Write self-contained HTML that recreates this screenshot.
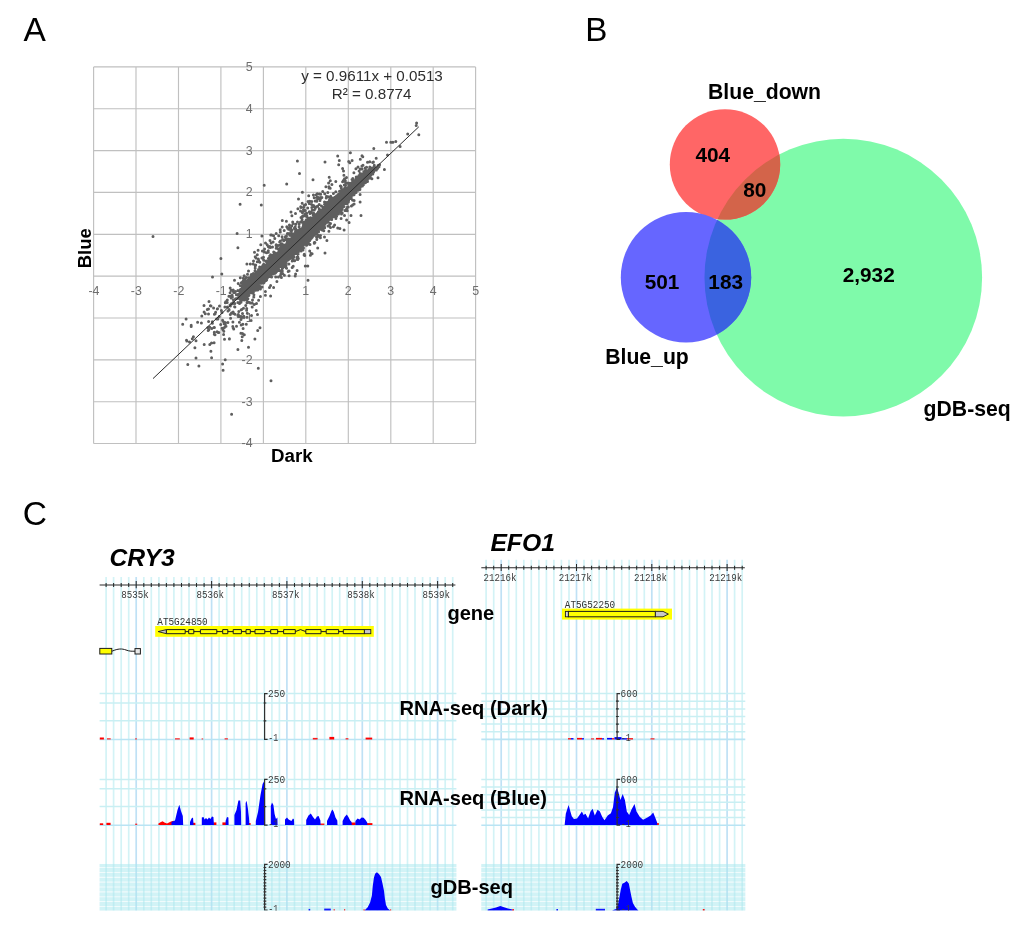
<!DOCTYPE html>
<html lang="en"><head><meta charset="utf-8"><title>Figure</title>
<style>html,body{margin:0;padding:0;background:#fff}body{width:1024px;height:931px;overflow:hidden}svg{display:block;filter:blur(0.4px)}text{font-family:"Liberation Sans", Arial, sans-serif}text.m,.m text{font-family:"Liberation Mono", "DejaVu Sans Mono", monospace}</style>
</head><body>
<svg width="1024" height="931" viewBox="0 0 1024 931">
<rect width="1024" height="931" fill="#fff"/>
<g id="panelA">
<text x="23.6" y="40.8" font-size="33.5" fill="#000">A</text>
<path d="M93.6 66.9V443.5M93.6 443.5H475.6M136 66.9V443.5M93.6 401.7H475.6M178.5 66.9V443.5M93.6 359.8H475.6M220.9 66.9V443.5M93.6 318H475.6M263.4 66.9V443.5M93.6 276.1H475.6M305.8 66.9V443.5M93.6 234.3H475.6M348.3 66.9V443.5M93.6 192.4H475.6M390.8 66.9V443.5M93.6 150.6H475.6M433.2 66.9V443.5M93.6 108.7H475.6M475.6 66.9V443.5M93.6 66.9H475.6" stroke="#c0c0c0" stroke-width="1.15" fill="none"/>
<path d="M330.3 204.4h0M296.5 241.3h0M292.8 245.3h0M311.2 231.1h0M367.6 170.7h0M320.1 223.6h0M283 246.5h0M284.2 258.1h0M323.6 215.7h0M287.4 244.9h0M317.1 230.9h0M240.5 297.1h0M319.4 221.3h0M260.5 269.7h0M317.2 221.2h0M289.5 255.9h0M344.2 198.3h0M327.1 218.9h0M278.3 260.4h0M297.9 240h0M257.5 278.5h0M312.6 228.9h0M346.9 200.6h0M278.2 257.5h0M260.4 276.5h0M326.5 214.3h0M306.6 238.3h0M309.4 231.2h0M345 198.1h0M292.9 240.2h0M330.7 209.4h0M321.8 215.7h0M303.8 234.1h0M260 279.8h0M328.2 206.8h0M302.2 233.4h0M321 218.9h0M311.1 227.8h0M341.7 209.8h0M333.7 209.4h0M311.7 225.9h0M313.4 195h0M348.5 193.6h0M281.2 255.9h0M305.1 239.1h0M230.1 292.7h0M295.4 242.5h0M361.2 179.1h0M271.5 274h0M362.5 180.1h0M267.9 274.3h0M293.3 237.5h0M337.6 201.7h0M348.6 191.4h0M372 172.8h0M335.7 198.3h0M295.5 213.5h0M268.5 265h0M306.2 226.5h0M350.6 184.1h0M244.8 296.4h0M307.6 233.2h0M302.8 227.3h0M305.1 235.5h0M264.2 281.5h0M284.9 253.5h0M308.4 227.2h0M362.8 182.8h0M279.5 264.9h0M315.2 208.5h0M275 273.2h0M353.1 185.6h0M327.2 206.6h0M360.8 179.4h0M328.9 201.8h0M248.5 271.1h0M352.1 186.9h0M275.3 263.2h0M302.6 237.8h0M331.7 208.7h0M387.5 154.9h0M356.6 184h0M242.7 289.2h0M345.4 187.8h0M252.1 286.6h0M273.1 242.1h0M261.5 266.9h0M329.2 215.6h0M330.2 206.1h0M309.1 229.3h0M285.8 244.5h0M316.4 219.4h0M354.5 187h0M298.2 239.1h0M292.9 251.7h0M335.2 209.9h0M320.1 212.5h0M325.9 206.1h0M330.3 205.5h0M294.4 239h0M297.1 270.5h0M306.6 233.2h0M304.9 238.2h0M303.4 236.3h0M317.3 218.5h0M307.5 240.8h0M336.4 206.4h0M261.9 276.6h0M259.2 272.7h0M349.3 196.6h0M244.1 292.5h0M318.6 224.9h0M259.7 274.5h0M325.8 221.8h0M331.6 212h0M319.1 229.5h0M297.5 243.4h0M325.8 213.1h0M298.3 245.4h0M343.3 194.7h0M250.5 286.4h0M355.5 185.3h0M304.6 237.8h0M259.7 282.9h0M311.5 223.9h0M242.4 289.1h0M324.1 217.7h0M308.5 233.2h0M271.2 267.5h0M304.3 239.4h0M311.8 232.1h0M358.8 182.6h0M336 207.5h0M281.9 243.8h0M282.4 251.7h0M351.6 185.4h0M273.6 267.7h0M302.3 212.5h0M363 165.2h0M301.8 239.2h0M304.5 242.6h0M318.4 223.1h0M288.5 271.2h0M288.9 253.5h0M313 224.3h0M306.9 242.5h0M316.9 220.7h0M323.3 215.2h0M343.4 203.4h0M273.5 265.2h0M289.6 256.6h0M269.1 268.7h0M276.1 245.5h0M357.5 178.8h0M303.7 234.1h0M247.9 282.2h0M370.9 171.1h0M315.2 217.1h0M343 201.4h0M356.9 183.7h0M326.9 211.1h0M334.1 204.2h0M262.7 275.7h0M300.1 239.7h0M347.4 196.1h0M306 216h0M281.4 264.8h0M304.2 241.2h0M241.6 297h0M266.7 266.4h0M308 227.3h0M271.1 267.5h0M279.7 242h0M304.3 241.8h0M320.9 220h0M251.1 279.6h0M374.3 167.1h0M244.3 295.1h0M324.7 211.7h0M304.2 205.4h0M360.6 179h0M251.2 290h0M266 270.7h0M244.1 289.4h0M254.1 278.8h0M302.6 238.7h0M275.3 264.4h0M326.8 207.5h0M243.3 296.1h0M282.8 255.1h0M320.4 228.1h0M321.8 220.8h0M250.7 282.1h0M273.3 258.1h0M312.1 253.7h0M241.4 290.7h0M300.2 235.6h0M269.5 273.5h0M329.5 209.1h0M281.7 256.9h0M282.8 249.4h0M357.3 177.6h0M310.4 220h0M253.8 279.3h0M245.5 298.7h0M335 201.7h0M300.5 241h0M367.3 178.8h0M278.9 257.1h0M320.2 222.2h0M286.5 253.6h0M285.6 251.1h0M265.7 276.8h0M252.3 280.9h0M295.2 248.5h0M376.4 170h0M289 244.5h0M267.5 265.8h0M294.7 247.5h0M306.6 232.3h0M362.5 182.4h0M282.7 257h0M254.7 276.7h0M370.2 168.7h0M305 225.6h0M292.3 256.1h0M263.5 273h0M351.6 185.9h0M273.1 261.1h0M304.7 222h0M254.9 285.1h0M255.9 287.4h0M290.1 253.5h0M300.2 241.9h0M277 265.2h0M345 194.4h0M335.9 207.4h0M309.5 223.1h0M315 224h0M266.7 279.8h0M357.3 178.7h0M266.1 280.6h0M371.1 173.4h0M365.3 180.5h0M346.2 196.6h0M360.8 179.6h0M293.4 246.2h0M311.5 221.1h0M262.8 277.5h0M259.9 278.7h0M314.8 223.5h0M324.8 217.5h0M275.7 277.1h0M299.6 242h0M246.6 290.1h0M318.9 214h0M312 228h0M298.2 238.8h0M293.5 245.1h0M304 237.8h0M321.2 217.1h0M345.9 192.6h0M294.6 251.3h0M294.1 253h0M279 264.6h0M299.8 229.5h0M246 293.8h0M304.6 233.2h0M280.2 265.5h0M263.6 274.2h0M366.6 174.4h0M240.9 295.5h0M300.9 244.3h0M304.7 233.4h0M333.6 208.5h0M279.7 257h0M266.6 267.5h0M242.1 294.8h0M300.8 243.6h0M361 177.4h0M329.6 226.3h0M329.7 218h0M297.2 248.6h0M294.7 245.7h0M318.4 211.7h0M308.5 230.3h0M325.4 215.5h0M292.2 242.7h0M248.9 295.3h0M367.1 175.3h0M318.4 219h0M325 222.5h0M346.9 190.4h0M298 240.7h0M297.3 246.8h0M307.8 232.9h0M298.4 240.1h0M312.4 232.3h0M252.3 284.4h0M305.1 234h0M303.3 235.2h0M284.5 252h0M278.2 263.5h0M307.1 234h0M333.9 208.8h0M287.9 259.5h0M344.3 194.1h0M307.1 239.1h0M271.5 266.4h0M305.2 243.1h0M295.3 241.1h0M339.9 209.4h0M324 214h0M313.3 222.6h0M260.9 276.3h0M331.7 210.9h0M338.1 200.4h0M253.7 274.9h0M298.6 241.6h0M254.4 283.4h0M309.1 232.9h0M302.4 242.8h0M294.5 239.9h0M285.5 256.4h0M358.5 182.6h0M354.8 190.3h0M276.9 256.8h0M336 202.2h0M273 262.2h0M270.9 272h0M258.7 277.1h0M302.3 234.6h0M255.4 283.5h0M351.6 184.6h0M291.2 252.5h0M333 208.5h0M299.6 239.2h0M294.4 249.3h0M299.7 237.7h0M359.1 178.9h0M325.4 208.7h0M315.9 230.5h0M303 243.8h0M345.8 189.7h0M276 262.2h0M336.8 205.2h0M278.6 265.1h0M328.8 211.4h0M355 182.9h0M258.9 287.5h0M242.1 288.2h0M290 246.4h0M286.7 249h0M346.6 190.2h0M330 215.4h0M352.9 191.1h0M299.1 246.2h0M301.6 234h0M336.6 202.6h0M264.6 272.8h0M322.8 222.7h0M353.2 183.5h0M274.6 269h0M331.9 184.5h0M244.6 294.6h0M289.3 252.8h0M306.5 236.7h0M248.3 291.1h0M294.4 245.5h0M328.1 206.5h0M292.9 242h0M345.6 197.8h0M239.3 297h0M307.1 240.4h0M362.5 183.2h0M324.4 222.7h0M276.7 270h0M317.7 213.8h0M328.3 210.4h0M345.9 196h0M330.3 217.4h0M247.4 286.5h0M345.8 190.1h0M300.1 244.5h0M372 169.1h0M339.9 197.3h0M306.8 232.8h0M316.9 223.8h0M353.5 187.9h0M265.3 271h0M338.2 210.9h0M335.5 202.2h0M336.6 206.3h0M269.9 275.6h0M301.3 241.2h0M331.7 207.5h0M295.9 245.8h0M276.6 267.4h0M320.8 223.6h0M293.1 259.2h0M247.4 280.8h0M281.6 258.2h0M290.7 257h0M278.2 266.6h0M266.8 267.6h0M245.7 287.4h0M245.3 286.4h0M363 184.4h0M250.8 288.7h0M365.4 180.9h0M274.3 263.9h0M301.9 228.8h0M344 206.6h0M310.3 234.9h0M311.4 225.4h0M288.9 255h0M325.5 210.1h0M303.2 235.6h0M285.9 253.7h0M302.9 223h0M276.7 260.4h0M343.3 203.3h0M274.2 262.7h0M322.6 227.8h0M281.3 244.3h0M297.6 232h0M358.1 190.3h0M293 256.1h0M283 255.6h0M361.8 177.6h0M314.9 233.2h0M247.6 288.7h0M280.3 257.9h0M288.9 245.6h0M329 206.9h0M340.7 200.3h0M269.7 256.1h0M359.6 184.4h0M353.4 188.1h0M272.5 257.2h0M259.3 270.7h0M321.1 216.5h0M285.8 254.1h0M363.3 182.2h0M255.4 290.2h0M340.6 205.3h0M298.3 237h0M253.2 284.6h0M247.8 292.2h0M363.1 179.5h0M240.1 292.3h0M316.5 221.1h0M266.5 265.1h0M326.2 212.5h0M349.3 186.6h0M350.5 188.6h0M247.5 293.5h0M306.4 224.6h0M304.2 235.7h0M289.5 246h0M301.2 238.5h0M287.9 251.1h0M356.5 186.7h0M248.3 292.6h0M306.6 239.4h0M296.3 252.8h0M323.4 216.6h0M296.6 242.2h0M309.3 238.6h0M296.7 242.8h0M294.4 248.9h0M303.6 231.3h0M259.9 272.4h0M262.2 270.7h0M291.8 252.3h0M344.6 197.8h0M286.6 268.2h0M362.9 179.1h0M295.2 226.8h0M294.2 249.1h0M332.8 209.3h0M303.5 248.1h0M349 192h0M275.8 263.2h0M234.8 303.6h0M334.9 201.2h0M309.2 225.8h0M286.3 252.9h0M295 238.9h0M337.4 200.6h0M316.8 220.9h0M350.9 195h0M280.7 256.5h0M340.8 196.1h0M272.2 265.3h0M283.5 254.5h0M285.4 254.9h0M307.9 232.1h0M288.7 240.4h0M285.6 256.3h0M350.6 197h0M340.1 209.9h0M363.1 178.6h0M240.6 299.9h0M317 226.4h0M357.5 188h0M327.4 214.8h0M333.9 211.2h0M307.3 224.2h0M297.9 238.6h0M363.8 175.1h0M352.8 178.6h0M241.5 290.4h0M233.1 302.6h0M309.7 232.2h0M275.1 270.5h0M310.7 218.9h0M271 262.9h0M369.8 176.4h0M286.2 249.7h0M263 265.2h0M295.8 237h0M373.3 171.9h0M318.1 218.5h0M311.3 225.6h0M287.6 254.5h0M296.7 245.2h0M348.8 189.7h0M266.5 276.7h0M299.2 232.6h0M317.4 220.7h0M254.4 280.6h0M245.8 291.8h0M248.4 287.7h0M287.7 255.6h0M358.9 178.8h0M274.2 262.1h0M318.5 198h0M319.9 211.1h0M277.7 257h0M369.2 175.7h0M272.7 265.9h0M281.9 265.7h0M309.2 232.7h0M279.2 256.4h0M273.4 265.6h0M345.7 189.9h0M313 223h0M289 253.9h0M252.5 283.1h0M289.6 248.1h0M286.3 261.7h0M359.1 171h0M303 237.5h0M319.1 225.1h0M286.8 254.1h0M264.6 273.4h0M291.8 251.2h0M292.5 241.9h0M358.7 180h0M329.3 212.2h0M314.8 219.4h0M339.3 195h0M356 190.1h0M350.3 190.4h0M264.4 269.2h0M320.4 224h0M355.7 180.6h0M245.5 289.4h0M321.5 214.6h0M264.2 272.2h0M298.7 244.5h0M287 247h0M256.8 276.3h0M269.6 261.1h0M339.5 201.1h0M293 248.2h0M277.9 255.1h0M333.1 209.7h0M324.6 208.4h0M320 217.9h0M245.9 291.6h0M275.2 255.5h0M295.2 239.3h0M314.5 226.6h0M330.3 208h0M269.8 257.7h0M283.8 259h0M313.8 228h0M282.5 262.1h0M351.9 191.2h0M332.5 209.2h0M300.3 235.6h0M274.5 262.5h0M251.4 284.4h0M315.9 229.8h0M306.1 233h0M324.5 201.9h0M284.2 245.4h0M279.9 256.8h0M353.9 172.7h0M339.9 194h0M316.3 228h0M263.3 267.2h0M263.4 276.9h0M361.9 166h0M305 236.4h0M262.1 276.2h0M252.1 287.5h0M240.4 294.7h0M345.9 197.2h0M349 195.5h0M351.2 184.1h0M294.1 239.5h0M308.2 229.5h0M371.3 172.7h0M369.5 173.2h0M322 220.2h0M338.1 204.9h0M267.5 261.3h0M288.9 255h0M290.1 254.3h0M323.1 215h0M313.8 224.1h0M274.2 267.7h0M299.1 239.1h0M344.2 199h0M296.9 251.9h0M327 213.7h0M337.2 206.6h0M292.8 239.6h0M258.5 280.2h0M306.2 228.4h0M309.8 225.7h0M337.2 208.6h0M358.9 187.2h0M286 256.7h0M250.5 287.1h0M245.9 286h0M255.3 265.9h0M274.3 273.1h0M323.4 214.6h0M265 272.2h0M291.9 251.7h0M312.5 222.9h0M239.9 296.4h0M327.7 204.3h0M285.5 252.6h0M333.9 212.3h0M317.7 219.5h0M308.9 235.5h0M289.2 253.7h0M290.2 247h0M302.9 237.2h0M328.6 218.1h0M373.6 170.7h0M312.1 232.9h0M270.6 264.2h0M331.7 219.4h0M339.6 204.9h0M281.8 252.1h0M314.3 242.5h0M307.2 234.1h0M317.5 228.2h0M313.6 225.5h0M313.9 227.1h0M285.9 261.3h0M321 217.8h0M288.1 260.1h0M331.3 206.3h0M288.8 247.8h0M269.4 264.8h0M253.6 288.9h0M295.6 235.2h0M286 248.1h0M241.3 296.9h0M268.6 269.1h0M258.3 279.7h0M312.9 230.4h0M283.5 255.2h0M338.7 164.7h0M267.2 271.1h0M276 256.5h0M345.6 201.3h0M321.9 222.5h0M268.1 269.9h0M344.5 189.7h0M371.6 172h0M257.8 273.6h0M273.4 272h0M270.8 266h0M307.7 238.7h0M303.3 222.8h0M317.1 220.4h0M294.9 243.5h0M286.4 256.7h0M254.6 281.3h0M284.3 258.4h0M274.1 266.1h0M324.4 216.2h0M328.2 210h0M280.2 229.7h0M287.1 252.8h0M276 260.2h0M280.8 255.1h0M320.5 221.9h0M319.7 223.1h0M315.4 225.1h0M310.4 255.2h0M307.8 229.3h0M252.2 283h0M336.5 203.5h0M302.7 237.3h0M295.6 245.7h0M310 244.5h0M362.7 177.6h0M328.8 206.9h0M344.9 200.1h0M287.1 246.7h0M358.9 183.9h0M323.1 211.4h0M313.8 226.8h0M327.9 212.3h0M271 267.8h0M272.7 260.1h0M298.5 233.6h0M274.3 263.4h0M304.9 231.2h0M345.5 185.4h0M318.5 226.1h0M240.2 297.1h0M308.7 227.3h0M340.1 201.5h0M293 251.9h0M273 268.5h0M275.7 262.9h0M296.9 248.5h0M348.8 184.9h0M247 290.9h0M319 226.6h0M360.4 178.8h0M350.1 190.7h0M303.6 233.5h0M310.2 225.2h0M333.6 204.8h0M319.6 229.2h0M289.4 248.9h0M333.9 203.8h0M306.1 230h0M348.8 192.7h0M363.2 178.1h0M287.4 255h0M283.3 260.7h0M340.5 206.3h0M257.7 284.5h0M352.5 190.8h0M284.4 253.9h0M273.1 257.7h0M273 270.6h0M295.9 241.9h0M299.2 249.8h0M339.7 202.4h0M286.7 257.9h0M255.9 273.3h0M330.7 210.1h0M263.2 275.5h0M268.7 274.9h0M350 189h0M284.5 248.5h0M277 262.7h0M314.8 221.6h0M329.1 210.3h0M355.3 186.5h0M313.5 232.4h0M311.8 227h0M314.9 228.5h0M272.2 266.8h0M295.5 234.4h0M348 190.8h0M311.5 229.6h0M246.6 284.5h0M322.2 230h0M282.6 257.8h0M280.3 250.8h0M359.4 177.7h0M295.9 238.1h0M343.4 202.2h0M300.7 240.1h0M308.2 224.6h0M343 189.9h0M260.5 271.9h0M299.8 241.8h0M286.4 260.4h0M315 217.8h0M342.6 181.7h0M301.9 242.5h0M346.5 177.4h0M320.5 216.6h0M319.7 217.5h0M270.6 256.4h0M286.4 239.9h0M246.8 292.9h0M264.1 272.1h0M340.2 198.6h0M313.7 233.2h0M289.6 249.4h0M277.9 262.6h0M262.1 271.1h0M357.6 186h0M357.4 180.5h0M288.4 250.9h0M267.3 271.6h0M286.3 250.3h0M329.4 216h0M337.8 205.5h0M295.2 247.3h0M303 235.1h0M286.5 255.5h0M292.9 246.5h0M292.8 244.6h0M333.2 208.1h0M316.7 230.4h0M333.8 209.2h0M305.4 225.7h0M294.1 242.5h0M261.9 236h0M304.6 232.9h0M325.7 222.1h0M252.5 290.7h0M346.5 195.4h0M366.2 178.1h0M352.1 194h0M345.6 198.8h0M341.3 188.5h0M357.9 185.8h0M271.3 270.2h0M309.8 233.9h0M258.3 276.9h0M351.2 197.4h0M269.4 276.4h0M332.5 216.4h0M318.9 221.2h0M276.2 265.4h0M267 262.8h0M325 213.5h0M273.5 272.5h0M245.6 289.4h0M288.8 246.1h0M322.2 223.2h0M308.2 218.8h0M312.8 229.9h0M337.9 202h0M281.5 266.7h0M283.4 245.1h0M250.3 290.6h0M332.5 209.9h0M290.6 253.3h0M242.4 292.4h0M332 209.2h0M304.2 235.4h0M295.3 247h0M268.6 272.6h0M303 244h0M279.2 252.1h0M348.4 202.1h0M333 199h0M251.4 289.3h0M327.9 208.1h0M302.3 240.3h0M294.6 260.7h0M265.2 269.1h0M296.5 239.5h0M319.1 217.2h0M298.1 253.9h0M344.8 194.1h0M305.3 240.2h0M341.3 207.2h0M357 187.4h0M245.6 293.4h0M258.6 269.5h0M339.6 199.2h0M295.6 240.1h0M370.2 171.4h0M344.3 190.1h0M284.8 252.1h0M276.4 268h0M361.4 182h0M333.4 205.5h0M329.9 216.6h0M327.1 211.3h0M245.5 290.8h0M361 185.7h0M327.4 207.9h0M322.5 212.1h0M257.1 285.4h0M306 231.3h0M348 194.4h0M283.8 256.6h0M258.7 273.5h0M316.1 214.6h0M318.2 225.3h0M282.9 253.6h0M358.4 182.3h0M267.4 264.3h0M310.3 235.3h0M267 277.4h0M300.6 229.4h0M284.4 255h0M287.1 251.2h0M335.4 207.6h0M320.8 216.7h0M351.9 187.9h0M350.1 198.4h0M340.7 186.1h0M337.3 200.9h0M311.9 229.3h0M260.1 273.6h0M281.2 250.8h0M262.4 266.6h0M315.7 223h0M303.5 209.4h0M274.3 262h0M314.6 224.5h0M326.9 217.5h0M298.8 247.6h0M258.1 273.2h0M277.4 263.4h0M345.8 193.3h0M328.8 210.1h0M305.3 233.3h0M291.5 243.6h0M318.4 219.4h0M271.5 272.5h0M302.1 239.1h0M280.6 265h0M333.2 200.8h0M357.2 184.3h0M317.6 232.1h0M245.2 283.4h0M295.3 243.1h0M376.2 158.2h0M249.8 279.3h0M309.8 240.5h0M262 278.4h0M318.9 236h0M327.5 218.6h0M272.9 269.8h0M340.9 198.5h0M355.6 186.3h0M349.3 187.9h0M335.3 196.9h0M295.3 241.9h0M354.2 190.4h0M259.9 274.2h0M343.5 196h0M320.6 218.6h0M267.7 266.1h0M338.6 194.6h0M244.2 296.6h0M298 235.9h0M371.7 171.4h0M330.3 205.9h0M328.1 196.7h0M352.7 189.2h0M278.6 255.9h0M364 178.4h0M344.3 195.7h0M266.5 273.8h0M344.4 194.5h0M299.7 242.5h0M344.9 210.5h0M309.8 223.2h0M300.5 211h0M259.4 274.9h0M341.4 200.1h0M268.2 268.2h0M326.6 218h0M280.9 263.2h0M333.4 207.3h0M276.9 260.7h0M325.3 212.7h0M299.9 229.3h0M344.6 188.3h0M315 222.5h0M259.5 273.9h0M367.1 179.3h0M279.7 250h0M280.2 263.6h0M364.9 177.2h0M289 243.8h0M346 198h0M301.5 239h0M270.2 262.6h0M281.4 253.7h0M310.6 230.5h0M271.7 268.6h0M309.6 228h0M312.5 226.8h0M337.3 207.6h0M314.7 220.9h0M302.3 243.9h0M355.5 182h0M290.5 246h0M287.4 246.1h0M250.1 289h0M316.6 216.2h0M339.6 202.4h0M282.1 261.4h0M301.4 244.5h0M267.7 274.5h0M367.3 173.9h0M264.5 276.7h0M314.3 227h0M287.7 249.9h0M318.5 198.6h0M331.1 199.3h0M339.3 160.4h0M269.2 267.7h0M338.4 202.9h0M283.4 259.4h0M342.6 194.2h0M353.9 188.5h0M338.3 200.7h0M321.5 206.1h0M317.5 221.4h0M296.7 247.4h0M286.1 258h0M276.2 233.6h0M369.8 171.4h0M297.3 257.1h0M296.6 237h0M309.1 238.5h0M281 263.2h0M369.6 168.6h0M334.6 208h0M281.2 264.9h0M296.7 246.7h0M347.7 197.9h0M282.1 263.6h0M357 187.1h0M324.4 217.1h0M361.2 181.7h0M343.2 202.8h0M309.1 226.7h0M276.4 258.6h0M342.3 201.5h0M298.9 241.4h0M261.7 275.5h0M343.2 202.6h0M370.1 175.7h0M280.5 254.7h0M357.8 189.3h0M342.4 198.6h0M306.5 232.9h0M240.6 296.3h0M242.7 286.9h0M370.6 174h0M336.6 208.6h0M306.9 231.5h0M333.8 205.4h0M338.1 206.4h0M315.5 224.5h0M292.8 251h0M320.2 229.2h0M321.5 211.3h0M271.2 270.1h0M269 270.8h0M272.5 266.6h0M254.4 284.1h0M269.8 273h0M361.4 185.2h0M291 251.3h0M311.6 238.1h0M346.9 197.8h0M349.7 191h0M309 221h0M276.9 256.6h0M329.2 213h0M254.3 288.2h0M279.9 258h0M288.9 244.5h0M290.1 254.1h0M254.2 285.2h0M284.5 266.6h0M294.9 244.8h0M343.8 196.1h0M292.8 233.9h0M291 239.1h0M320.7 218.4h0M262.8 274.1h0M270.8 266.4h0M360.1 194.4h0M278.9 257.1h0M338.8 198.2h0M378 165.4h0M327.8 192.4h0M353.3 189h0M275 258.4h0M247.3 288.7h0M368.2 178.4h0M350.3 194.6h0M326.5 211.4h0M295.3 241.4h0M341.7 192.1h0M338 207.7h0M274.1 271.2h0M344.7 201.5h0M353.6 183.4h0M251 277.1h0M246.5 296.7h0M276.2 260.5h0M357.1 186.8h0M323.8 207.6h0M312.8 219.3h0M325 223.3h0M281.8 251.2h0M303.4 236h0M317.2 227.5h0M321.9 224.2h0M337.7 208.6h0M251.9 276h0M310.9 229.7h0M297 247.6h0M327.4 221.7h0M301.9 246.9h0M373.6 172h0M267.2 264.9h0M301.5 241.3h0M295.2 229.2h0M315.6 219.9h0M366.7 174.2h0M268 273.2h0M358 167h0M340.4 203.6h0M348.2 196.5h0M289.2 255.4h0M300.8 243h0M272 258.9h0M323 207.6h0M260.6 280.6h0M335.7 199.4h0M243 282h0M308.4 232.6h0M288.1 245.9h0M273 264.9h0M266.9 266.9h0M306.3 231.2h0M283.7 254.8h0M339.5 191.2h0M317.2 216.4h0M347.5 207.1h0M283.6 250.5h0M292.8 241.7h0M272.9 265.7h0M363.9 181.7h0M291.8 240.7h0M367.8 178.7h0M319.5 213.3h0M341 202.5h0M353.9 182.2h0M287.8 245.5h0M326.8 216.9h0M326.1 217.2h0M345.8 191.9h0M281 251.8h0M299.2 235.5h0M301.3 239.1h0M309.8 232.8h0M299.3 231.5h0M367.5 174.3h0M298.5 241.9h0M355.6 179.7h0M320.4 237.7h0M318.9 220.5h0M324.8 214h0M330.5 223.6h0M337 205h0M313 179.7h0M263.6 271.1h0M248 285.2h0M244.6 290.4h0M263.9 277.1h0M286.8 226.7h0M249.8 284.8h0M240.7 291.8h0M309.3 228.9h0M316.7 228.6h0M379.6 164.8h0M286 247.6h0M346.1 188.5h0M301 239h0M346.8 198.7h0M251.2 276.9h0M260.1 286.6h0M273.3 262.6h0M253.9 283.8h0M327.1 217.7h0M298.1 248.6h0M299.9 243h0M255.2 256.8h0M297.5 238.5h0M254.3 275.9h0M342.1 194h0M247.3 313.2h0M290.6 251.1h0M244.5 289.6h0M343.3 206.5h0M254.6 280.9h0M322.1 219.8h0M256.2 285.1h0M303.7 207h0M312.7 223.5h0M370.7 174.4h0M299.7 244.3h0M348.5 193.5h0M280.9 260.2h0M287.6 257.1h0M326.8 209.5h0M276.8 256.4h0M338.1 194.4h0M372.2 173.9h0M277.7 261.8h0M322 215.5h0M349 195.1h0M325.4 210.2h0M268.2 273.7h0M283.6 256h0M328 219.5h0M373.6 169.7h0M301.9 233.1h0M298.5 250.5h0M338 200h0M305.5 224.4h0M347.2 198.7h0M294.6 244.9h0M346.6 195.3h0M278.8 266.2h0M373.8 170.1h0M314.2 228.4h0M274.4 262h0M318.7 218.3h0M335.1 211.5h0M324.2 219.8h0M272.6 263.5h0M333.6 204.2h0M305.8 237.5h0M301 232.1h0M284 250.4h0M317.6 226.6h0M316.2 214.5h0M321.9 211.6h0M277.4 258.2h0M327.3 212.7h0M247.9 289.7h0M336.5 202.7h0M287.5 256h0M305.9 234h0M308 229.6h0M285.1 255.2h0M284.1 257.1h0M311.4 229.2h0M267.4 270.3h0M306.7 236.1h0M303.8 238.5h0M333.9 206.9h0M246.1 289.7h0M289.1 256.9h0M278.7 265.1h0M340.6 210.1h0M304.7 229.9h0M270.1 268.1h0M288.5 248.7h0M303.9 231h0M345.8 196h0M348 182.9h0M316.3 218h0M277.4 256.3h0M297.4 235.7h0M293.4 248.5h0M309.9 238.1h0M304.2 238.4h0M322.1 215.9h0M268.7 274.3h0M293.4 240.9h0M268 268.1h0M325.5 222.6h0M331.3 207.8h0M310.7 220h0M291.9 239.8h0M305.7 228.1h0M254.3 280.9h0M356.8 188.5h0M264.7 270.7h0M358 187.9h0M359.9 180.3h0M354.3 184.1h0M284.3 254.2h0M310.1 224.7h0M284.9 253.3h0M265.4 275.3h0M265.3 265.4h0M249.4 290.8h0M291.2 252h0M270.1 266.6h0M330.1 208.7h0M272.4 267h0M277.6 263.2h0M349.1 191.9h0M247.4 294.2h0M265.2 278.5h0M261 270.6h0M304.3 254.2h0M282.6 254.9h0M329.1 209.1h0M291.8 239.2h0M262.8 279.3h0M268.2 269.2h0M281.5 250.6h0M371.3 168.8h0M282.3 261.5h0M319.8 224.5h0M288.6 246.1h0M300.1 232.7h0M312.4 233.2h0M302.9 237.8h0M331.9 215h0M304.4 240.1h0M265.5 267.5h0M336.4 207.3h0M340.3 203.1h0M292.4 253.4h0M317 225.3h0M323.3 223.1h0M224.9 306.9h0M297.5 230.6h0M338 201.5h0M310.1 232.4h0M299.3 242.5h0M267.4 277.8h0M331.8 208.4h0M292.4 248.4h0M291 230.3h0M373.2 169.4h0M349.1 196.3h0M363.7 175h0M356 187.6h0M301.4 243.5h0M277.9 258.3h0M293.4 249.1h0M332.6 209.9h0M355.6 185.5h0M288.1 255.5h0M294.7 237.4h0M334.7 209.3h0M266.7 276.5h0M349.5 195.9h0M276.6 260.4h0M336.7 204.8h0M362.9 180.9h0M279.4 260.8h0M331.3 216.9h0M265.5 269.1h0M285.9 252.9h0M292.3 243.8h0M341.4 205.2h0M295.8 242h0M355.8 184.8h0M314.8 216.4h0M270.8 270h0M279.4 263.8h0M266 271.8h0M357.2 187h0M324.4 214.2h0M303.7 231.4h0M315.8 232.5h0M331.8 209h0M345.1 195.5h0M295.5 231.4h0M299.1 227h0M272.4 263.5h0M304.1 244.6h0M340.5 206h0M290.9 257.7h0M281.5 266.7h0M272.7 270.5h0M321.8 215.4h0M267.6 274.2h0M265.4 275.2h0M341.5 201.9h0M281.2 260.9h0M255.6 276.8h0M298.8 245.4h0M271.2 266.7h0M278.3 263.4h0M283.4 253.6h0M293 246.4h0M318.6 219.2h0M288.7 250.6h0M321.6 223.1h0M273.5 266.5h0M326.7 216.2h0M248.5 283h0M242.7 291.3h0M298.2 240.9h0M315.7 223.4h0M341.7 193h0M307.1 222.6h0M253.2 264.1h0M253.6 279.9h0M319.1 222.3h0M340 202.7h0M344.6 198.3h0M306.8 234.6h0M266.6 271.3h0M247.2 284.4h0M360.2 173.6h0M322.4 219.5h0M327.2 215.5h0M263.7 274.5h0M266.2 271.9h0M254.1 284.9h0M332.5 203.7h0M286.6 260.1h0M269.5 270.9h0M369.9 170.3h0M272.4 265.7h0M366.4 174.8h0M304 238.4h0M322 228.1h0M263 277.5h0M294.7 239.6h0M345 201.1h0M357.4 185.4h0M306.7 232.1h0M303.9 228.9h0M332.7 208.3h0M290.1 234.2h0M256.8 272.8h0M333.6 206.4h0M260.8 276.9h0M335.3 213.8h0M320.7 224.7h0M316.3 219.3h0M290.5 251.6h0M329.2 177.3h0M300 239.1h0M276.3 260.3h0M360.2 184.9h0M275.4 253h0M300 241.5h0M263.5 276.1h0M339.5 201.3h0M295.7 242.1h0M262.7 279.6h0M308.1 231.4h0M317.6 222.4h0M328.9 231.2h0M318.9 216.3h0M306.2 227.5h0M319.4 222.9h0M347.8 192.9h0M252.1 303.1h0M246.2 292.1h0M351.2 194.4h0M276.6 263.9h0M323 220.7h0M338.5 214h0M265.2 270.8h0M323.9 220.9h0M367.5 178h0M311.6 229.6h0M270.1 275.1h0M311 220.8h0M283.9 245.9h0M273.3 267.2h0M271.6 258.5h0M314.8 226.1h0M262 269.6h0M282.4 253h0M318.2 218.8h0M308.3 227.3h0M251.1 274.9h0M282.7 254.6h0M344.1 199.5h0M372.6 168h0M242.6 297.1h0M247.8 288.9h0M343 195.8h0M330.6 212.8h0M343.2 195.2h0M302.9 234.2h0M326.6 211.2h0M350.8 187.9h0M251.3 290.3h0M249 283.6h0M309.3 232.6h0M250.1 283.5h0M325.9 215h0M282 251.5h0M269.9 273.6h0M246.6 293.5h0M333.3 204.1h0M343.3 192.9h0M247.6 293.8h0M328.9 218.5h0M295.7 237.9h0M362 155.8h0M314.9 234.1h0M254.5 252.2h0M290.4 246.8h0M304.3 241.1h0M319.5 228.9h0M269.8 273.7h0M367.2 173.7h0M313 225.8h0M332.8 211h0M319.6 219.2h0M303.7 231.2h0M343.8 198.6h0M319.4 216.9h0M271.9 272h0M317.7 215.4h0M291.2 242.3h0M280.7 264.8h0M288.7 251.4h0M324.2 216.3h0M305.9 230.4h0M301.1 243.8h0M350.3 196.2h0M328.9 225.5h0M253.5 288.4h0M306.5 233.8h0M345.4 197.4h0M280.2 254.4h0M306.5 240h0M291 211.9h0M307.8 238.8h0M338.5 201.5h0M305.9 240.2h0M269.4 264.3h0M342.9 198.7h0M298.7 248.3h0M262.3 279.7h0M295.9 241.2h0M317.8 222.8h0M259.9 279.7h0M278.9 259.7h0M278.2 262.2h0M265.7 261.2h0M302.3 235.3h0M243.3 288.7h0M370.8 171.8h0M326.1 211.3h0M303.7 228.9h0M250.3 287.7h0M352.1 193.8h0M295.6 241h0M253.3 273.4h0M272.1 266.6h0M287.2 253.2h0M297.3 251.8h0M301.5 239.4h0M326.6 209h0M253 282.3h0M291.2 245.4h0M240.4 289.4h0M360 185h0M335.2 213.1h0M253.5 261.1h0M282.8 250.2h0M303.8 223.2h0M315.4 230.3h0M296.9 242.6h0M333.7 213.4h0M367.5 162.3h0M321.6 214.8h0M299.1 238.5h0M280.6 257.2h0M312.8 228h0M282.2 260.4h0M268 269.3h0M302.9 234.1h0M353.3 188.9h0M291.4 253.2h0M247.4 289.8h0M296.6 242.2h0M316.7 217.7h0M296.3 245h0M327.7 210.5h0M338.9 207.8h0M280.6 255.9h0M342.2 197.2h0M348.3 206.9h0M307.4 229.9h0M327.3 220.2h0M327.3 214.1h0M250.9 285.5h0M274.4 261.1h0M283.5 251h0M317.2 223.4h0M293.2 249.9h0M287.3 242.6h0M250.8 286.7h0M352.6 188.1h0M285.8 261.6h0M309.5 221h0M255.4 274.1h0M299.1 232.3h0M322.6 220.9h0M365.6 180.1h0M275.8 265.1h0M338.3 202.4h0M332.2 217.6h0M325.1 221.7h0M284.1 250.2h0M325.9 211.3h0M332.3 204h0M254 289.7h0M282.1 258.5h0M301.2 229.3h0M309.6 227.6h0M261.8 270.4h0M260.6 268.5h0M324.7 227.8h0M291 252.6h0M326 217.9h0M282.6 256.4h0M287.3 257.3h0M298.3 241.1h0M314.1 222.4h0M297.2 237.9h0M346.2 190.5h0M273.4 262.4h0M324.6 220.8h0M286.6 261.3h0M275 272.7h0M364.6 182.1h0M355.4 184.5h0M326.6 205.2h0M301.8 230.2h0M281.5 260h0M325.2 217.1h0M328.5 207.8h0M361.5 180.8h0M341.4 201.6h0M242.5 290.1h0M257.4 274.6h0M332.8 211.8h0M252.3 286.7h0M280.6 260h0M313.1 231.9h0M251.9 286.4h0M356.4 184.4h0M317.1 229.6h0M356.2 181.4h0M289.7 249.7h0M347.2 195.7h0M333.3 205.1h0M337.5 196h0M285.8 261.4h0M287.6 251.8h0M337.9 209.8h0M294 245.7h0M316.2 194.8h0M317.7 227.8h0M295.8 241.2h0M296.7 248.5h0M365.3 181.7h0M308.2 222.5h0M306.1 236.6h0M340.6 204.7h0M345.4 195.8h0M299.6 245.7h0M338.8 207.6h0M316.8 201.2h0M343.4 202.7h0M260.1 279.2h0M246.7 292.5h0M296 247.3h0M291.9 236.9h0M315.2 219.5h0M280.6 271.1h0M337.8 201.2h0M311.1 221.7h0M369.1 173.8h0M310.5 233.8h0M315.6 225.4h0M299.2 248.1h0M278.6 258.6h0M288.7 252.3h0M354.9 189.9h0M305.2 231.9h0M302.3 241.3h0M338.1 208.9h0M362.2 176.5h0M376.6 169.5h0M366.1 178h0M342.6 190.4h0M315.9 230h0M358.1 184h0M298.3 231.4h0M333.8 209.3h0M259.6 267h0M324.8 207.2h0M301.8 239.9h0M297.8 259.6h0M330.2 216.4h0M266.9 267.2h0M263.8 275.2h0M299.2 246.1h0M325.9 207.9h0M331 206.3h0M263.5 283.1h0M320.6 214.2h0M307.6 228.6h0M301.1 235.4h0M317.7 229.5h0M328.2 219.3h0M331.8 208.2h0M301 234.3h0M302.6 244.6h0M263.3 279.5h0M286.8 258.4h0M265.1 269.5h0M315 223.9h0M273.4 257.3h0M292.7 221.9h0M267.4 267.3h0M248.8 295.2h0M365.2 176.8h0M311.5 227.8h0M259.9 278.5h0M295.7 224.3h0M337.8 203.4h0M301 233.9h0M278.8 266.8h0M267.4 275h0M328 213.5h0M339.1 201.5h0M330.6 209.2h0M296.1 238.2h0M307.3 234h0M240.6 290.3h0M346.3 190.6h0M317.5 222.5h0M309.5 228.7h0M291.3 242.2h0M347.9 194.4h0M344.3 184.9h0M270.5 267.8h0M314.8 225.5h0M340.5 201h0M306.8 237.6h0M334.6 210.1h0M317.2 213.6h0M316.3 222.8h0M351.3 188.6h0M267.8 266.6h0M264.9 275.7h0M319 229.5h0M249.8 288.5h0M303.1 235.1h0M276.7 266.7h0M304.1 237h0M289.8 245h0M304.7 230.8h0M304.1 239.7h0M318.9 216.9h0M259.8 276.3h0M370.9 170h0M243.8 294.6h0M297.8 244.8h0M290.9 254.5h0M336.6 216.2h0M306.1 236.8h0M340.7 207.7h0M326.2 216.1h0M271.5 258.8h0M336.7 205.8h0M310.7 221.9h0M268.3 267.5h0M324.2 222.9h0M251.9 277.2h0M296.6 242.8h0M293.4 246.9h0M271.1 270.2h0M293.3 255.4h0M343.6 200.3h0M325.9 186.8h0M294 248.5h0M269.8 266.5h0M259.6 274.2h0M374.5 169.9h0M300.2 244.5h0M265.7 270.7h0M291.8 246.9h0M282.3 251h0M307.8 231.2h0M277.9 263.9h0M350.6 188.9h0M304.3 239.4h0M299.2 237.1h0M326.4 212.1h0M278.7 235.7h0M294.8 249.5h0M335.9 208.5h0M270 264.7h0M319.2 221.5h0M250.2 285.1h0M255.8 288.5h0M317.7 228h0M302.8 233.6h0M336.7 195.8h0M260.4 279.2h0M306.7 233.7h0M355.9 168.8h0M364.2 176.5h0M328.3 207.8h0M286.7 251.4h0M282.2 227h0M372.6 172.4h0M325.9 212.5h0M294.1 260.5h0M281.6 265.9h0M297.6 240.8h0M252.8 284.1h0M323.7 218.6h0M316.5 223.1h0M332.7 209.2h0M264.8 273.3h0M277.3 259.2h0M256.2 277.3h0M370.4 177.9h0M256.8 279.9h0M320.7 225.7h0M333.3 202.6h0M241.4 291.5h0M299.5 232.6h0M315.7 218.5h0M269.8 272.4h0M320.5 217.4h0M322.4 215.6h0M253.4 283.1h0M289.6 242.4h0M348.4 194h0M288.3 245.1h0M276.5 261.8h0M302.9 237.5h0M327.2 212.1h0M356.4 186h0M366.3 170.9h0M299 241.2h0M285.4 254.4h0M286.8 254.8h0M265.9 271.7h0M317.1 220.4h0M334.5 209.4h0M320.2 217.9h0M345.3 189.2h0M280.2 260.2h0M307.4 239h0M325.5 221.2h0M336.3 208.5h0M364.5 181.7h0M258.6 276.9h0M277.1 261.2h0M300 232.3h0M254.2 284.6h0M294.9 241.5h0M278.6 267.8h0M250.2 289.3h0M346.5 191.7h0M312.6 233.2h0M335.6 205.4h0M260.1 273.5h0M257.9 278.5h0M328.1 213.4h0M334.8 203.3h0M246.5 293.7h0M310.3 233.7h0M257.4 276h0M271 271.9h0M305.2 235.3h0M362.2 179.6h0M319.5 224.3h0M321.5 220.1h0M362.9 178.3h0M283.4 245.6h0M306 228.7h0M249.4 289.4h0M267.9 268.4h0M349.8 162.8h0M255.6 277.9h0M321.8 210.1h0M289.5 247.7h0M355.2 187.6h0M327 220.1h0M323.2 213.7h0M286.6 256.6h0M267.1 266.7h0M286 265.5h0M345.7 196.2h0M370.4 174.1h0M367.5 180.3h0M324.7 218.8h0M289 245.8h0M279.2 253.2h0M307.8 227.2h0M294.6 251.7h0M294.6 240.4h0M297 240.3h0M317.4 224.5h0M258.6 277.9h0M293.3 248h0M304.9 240.3h0M278.4 249.3h0M330.4 205.7h0M245.4 297.7h0M357.9 186.5h0M339.1 208.9h0M329.7 219h0M297.8 244.3h0M315.8 221.7h0M285.9 251.3h0M327.2 216.4h0M266.1 273.8h0M328.4 217.3h0M253.7 274.7h0M251.9 281.9h0M280.9 257.5h0M325.3 216.1h0M357.7 176.9h0M297.8 258h0M298.8 245.6h0M279.7 259.8h0M317.4 224.7h0M343.4 196.5h0M347.6 189.5h0M321.2 218.3h0M323 216.7h0M348 195.3h0M268.2 264.7h0M292.3 248.2h0M318 222.3h0M331.9 214.2h0M333.3 199.6h0M314.3 224.6h0M304.4 238.5h0M271.5 234.9h0M308.1 235.3h0M307 235.9h0M263.4 275.7h0M335.8 191.8h0M349.4 189h0M256.2 287.6h0M285.6 257.3h0M301.2 247.2h0M328.1 211.7h0M298 233h0M338.4 202.5h0M331.2 207h0M278.7 266.3h0M329 203.8h0M280.7 255.8h0M311.7 226h0M348.7 195.4h0M265.2 280.4h0M299.2 236.6h0M280.5 266h0M309 231.6h0M278.8 259.4h0M267.9 269h0M309.7 227.3h0M284.3 254.4h0M299.9 241.5h0M294.9 238.6h0M324.7 224.5h0M264.7 280.1h0M349.1 196h0M316.5 231.7h0M277.4 263.9h0M265.6 270.9h0M313.5 229.1h0M372.6 169.9h0M267.1 270.9h0M261.8 273h0M304.4 239.9h0M306.4 243.7h0M263.1 266.2h0M278.8 261h0M323.7 220.9h0M351.6 183h0M335.5 205.1h0M352.1 192.1h0M295 236.7h0M308.2 234.4h0M335.2 200.5h0M320.3 220.3h0M325 222.7h0M276.2 253.7h0M344.2 200.2h0M256.9 279.9h0M323.8 212.2h0M244.4 286.2h0M253.7 283.1h0M302.7 222.4h0M373.9 169.6h0M257.1 283.3h0M302.7 232.2h0M308.7 237.7h0M241 292.3h0M299.7 239.9h0M362.3 178.3h0M243.3 278.2h0M313.3 222.6h0M328.3 212.3h0M273.7 251.9h0M282.8 258.7h0M331.2 217.7h0M285.8 256.7h0M349.6 192h0M339.3 204.6h0M257.4 278.9h0M282.5 248.7h0M301.6 248.2h0M266.2 279.9h0M354 188.6h0M254.5 280.6h0M248.5 295.8h0M279.1 262.4h0M247.6 293.9h0M309.9 227.6h0M257 272.2h0M373.6 172h0M303.8 229.5h0M256.9 279h0M297.1 240.1h0M323.6 227.2h0M353.6 191h0M359.1 180.8h0M341.5 200.9h0M293 248.3h0M271.2 264.1h0M333 198h0M309.4 226.4h0M305.1 241h0M304.4 234.6h0M336.9 211h0M301.6 245.8h0M309.4 230.8h0M256.1 282.6h0M330.8 201.6h0M303 233.7h0M369.1 174.6h0M348.2 188.5h0M348.6 200.5h0M363.4 178.1h0M301.2 237.7h0M319.5 215.5h0M295.4 245.5h0M278 259.9h0M239.3 297.6h0M328 215.6h0M296.9 259.2h0M293.1 256.7h0M349.4 191.1h0M324.8 212.8h0M313.6 224.1h0M261.5 279.7h0M308.6 233.4h0M312.3 232.2h0M297.5 247.9h0M299.8 236h0M260.9 271.1h0M312.2 229.3h0M257 284.8h0M266.4 267.3h0M285.8 246h0M283.3 256.5h0M304.2 238h0M330.8 210.4h0M238.3 294.2h0M345.2 192.5h0M345.5 197.8h0M334.7 202.1h0M329.3 219.5h0M281.4 277.6h0M283.1 257.6h0M274.3 271.7h0M326.3 202.6h0M332.6 210.4h0M301.1 236.9h0M294.4 236.4h0M286.1 245.1h0M309.9 224.5h0M315.2 200.9h0M324.1 213.7h0M255.5 281.2h0M296 243.3h0M294.5 249.5h0M246.5 289.4h0M228 310.9h0M249.5 290h0M289 254.6h0M331.7 204h0M301.1 235h0M256.3 278.7h0M345.1 194.6h0M242.9 289.9h0M376.7 168h0M300.3 230.1h0M344.5 195.3h0M261.3 277h0M369.3 176.4h0M273 262h0M300.1 233.8h0M332.4 214.6h0M335.8 205.2h0M344.2 190.9h0M315.6 228.5h0M288.1 228.1h0M293.2 244.3h0M364.1 182.1h0M313.9 228h0M306.6 245.2h0M315.3 227.8h0M289.6 248.4h0M318.4 222.3h0M332.9 207.8h0M332.4 208.8h0M347 203.8h0M304 229.5h0M306.7 213.3h0M290.2 248.5h0M265.7 268.6h0M309.2 221.7h0M285.3 237.2h0M305.8 229.4h0M273.6 287.5h0M246.9 289.2h0M319.4 223.4h0M296.2 235.1h0M280.2 241.3h0M300.8 243.5h0M273.3 269.1h0M367.8 175.5h0M337 197.8h0M330.2 188.2h0M348.1 196.7h0M313.8 226.7h0M329.1 188h0M271.3 259h0M328.3 216.3h0M294.8 250.7h0M298.8 246.3h0M269.6 261.1h0M298.5 244.3h0M344.5 189.6h0M302.1 235.7h0M298.5 243.1h0M265.9 272.7h0M269.7 274h0M307.4 233.1h0M267.7 272h0M312.3 218.4h0M249.4 292.9h0M326.3 204.4h0M363.2 178.2h0M346.6 208.7h0M292.6 245.9h0M293.1 246.8h0M339.1 206.7h0M361.6 184.8h0M276.4 262.7h0M293.2 258.5h0M299.8 244.9h0M291.4 258.1h0M296.4 242.4h0M292.3 249.3h0M259.7 280.5h0M323.9 220.1h0M366.2 179.5h0M271 257.1h0M305.8 238.9h0M304.2 236.6h0M296.2 231.8h0M329.4 216.3h0M306.7 229.8h0M273.8 273.8h0M324.3 213.3h0M270.6 285.4h0M296.6 237.7h0M359.2 179.5h0M343.3 202.5h0M298.8 241.3h0M283.4 257.1h0M289.3 244.2h0M297.6 244.7h0M303.2 228.5h0M253.8 297h0M334.9 212.4h0M300.9 238.1h0M303.9 215.8h0M330.6 209.8h0M353.5 184.2h0M251.3 288.6h0M252.7 283.4h0M308.8 236h0M363.8 183.3h0M283.8 250.2h0M317.1 234.5h0M336.8 206.7h0M358.1 183.4h0M266 271.6h0M371.4 168.3h0M307.8 237h0M302 241.8h0M311.1 234.7h0M277.8 255.3h0M351.8 193.6h0M334.9 206.7h0M288.9 253.1h0M325.1 209.7h0M315.3 227.5h0M291.4 239h0M303.5 225.8h0M290.9 250.5h0M285.9 254.2h0M299.7 231.1h0M340.9 191.4h0M315.7 227.1h0M241.2 309.7h0M294.9 235.3h0M277.9 266.1h0M257.8 276h0M303.7 234.4h0M290.2 251.7h0M260.3 280.5h0M301 241.2h0M248.9 277.7h0M286.4 248h0M362.5 178.5h0M318.7 225.1h0M273.2 266.4h0M369.8 170.8h0M286.1 250.4h0M265.3 273.6h0M255.6 275.3h0M275.1 269.2h0M294.6 240.1h0M346.6 198.2h0M309.3 211.8h0M320.8 221.5h0M338.2 212.1h0M340.2 202h0M295.6 232.2h0M306.5 227.3h0M255.9 278.3h0M303.3 228.4h0M283.3 260h0M335 209.1h0M264.4 273.2h0M316.8 228.7h0M314.9 225.6h0M247.6 295.2h0M289.2 252.3h0M321.6 213h0M342.1 199h0M320.6 218.8h0M285.4 252.4h0M283.6 252.7h0M341.9 200.1h0M259.9 268.7h0M298.8 246.6h0M291.2 244.2h0M307.9 218.8h0M333 203.5h0M286.5 235.9h0M328.3 213.2h0M250.2 289.6h0M297.8 249.5h0M371.8 173.1h0M338 195.8h0M266.1 270.3h0M289.4 250h0M354.8 187.6h0M265.3 269.2h0M283.7 258.8h0M348.1 199.8h0M350.6 185.1h0M288.2 253.3h0M277.6 264h0M328.6 213.9h0M316.6 200.4h0M268.8 267.5h0M348.5 196h0M353.2 185.4h0M321.8 222.1h0M246.2 291.9h0M332.4 211.5h0M374.4 166.4h0M366.3 179.6h0M269.6 262.3h0M287.1 250.8h0M300.5 221.9h0M273.1 270.3h0M314 223.7h0M323.2 211.8h0M311.3 229.9h0M301.7 237.6h0M301.3 239.7h0M306.8 232.7h0M283 258.1h0M308.1 225.8h0M316.4 218.6h0M338.8 199.4h0M294.8 243.7h0M324.6 212.8h0M345.3 194.2h0M263.5 268.9h0M302.1 236h0M291.8 246.8h0M254 282.2h0M255.1 278.5h0M348.6 194.3h0M282.3 220.6h0M345.3 202.7h0M255.2 286.2h0M269.2 266.6h0M318.9 228h0M285.2 261h0M290.2 245.5h0M258.3 278.5h0M274 273.4h0M370 168.7h0M299.7 249.6h0M294.8 247.6h0M266.8 277.5h0M331.5 207.9h0M294.3 228.3h0M357.7 180.5h0M306.3 229.1h0M341 200.2h0M261 272.4h0M280.6 257.8h0M308 235.7h0M336.9 208.8h0M292.8 241.6h0M266.5 273.1h0M358.9 181.2h0M320.6 218.5h0M282.2 249h0M261.7 279.5h0M239.9 291.6h0M332.2 209.8h0M323 220.2h0M274.6 269.1h0M306.1 233.6h0M348.6 198.3h0M240.4 297.2h0M260.2 277.4h0M277.8 256.4h0M281.8 262.9h0M254.4 283.4h0M333.1 199.3h0M274.7 259.2h0M345 202h0M267.5 262.8h0M297.9 242.4h0M255.2 279.5h0M284.5 259h0M293.6 254.3h0M261.8 268.1h0M263.9 274.9h0M372.7 162.5h0M292 230.3h0M248.8 282.4h0M327.3 205.8h0M311 219.9h0M353.1 189.4h0M369.3 175.2h0M294.1 244.9h0M320.1 219.9h0M297.6 245.4h0M360.8 183.8h0M363.2 178.9h0M318.1 221.7h0M246.4 295.8h0M310.6 239h0M298.4 237.4h0M277.1 257.4h0M252.1 280.8h0M297.3 247.8h0M281.8 251.7h0M275.9 270.9h0M259.4 273.1h0M287.9 256.7h0M298.3 243.9h0M301.1 251.1h0M357.5 185.6h0M334 212h0M299 240.9h0M284.8 256.7h0M333.6 202.6h0M319.2 213.1h0M258.1 280.7h0M313.7 214.8h0M328.2 216.9h0M302.5 240.7h0M265.4 267.9h0M288.9 238.9h0M298.8 246.5h0M305.4 234.2h0M271.5 267.1h0M335.6 200.2h0M261.5 283.3h0M322.7 191.6h0M300 234.5h0M282.6 253.7h0M339.7 206.1h0M311.2 219.2h0M322.7 220.9h0M281.3 259.9h0M296.8 246.2h0M297.7 248.2h0M321.6 214.9h0M308.3 237.8h0M249 287.9h0M308.4 242.7h0M295 252.3h0M325.4 206.6h0M300.8 245.4h0M305.3 210.5h0M300.4 243.7h0M307.4 236.2h0M258.9 282.9h0M310.5 231.7h0M264 267.5h0M282.5 259.8h0M289.5 244.9h0M271.9 260.3h0M342.7 199.6h0M268.9 272.5h0M342.3 202.3h0M371 173.2h0M373.7 168.9h0M325.6 214.4h0M354.6 193.2h0M330.8 210h0M289.4 248.5h0M289.9 245.5h0M351 187.4h0M271.1 261.5h0M337 205.1h0M296.2 246.5h0M264.9 272.2h0M270.1 262.5h0M341 203.1h0M322 221.3h0M260.8 275.3h0M253 286.8h0M334.6 211.4h0M319.6 217.8h0M352.2 192.8h0M251.1 281.6h0M342.2 198.6h0M301.2 230.8h0M357.4 181.4h0M333.5 209.2h0M264.8 274.5h0M234.6 306.7h0M312.7 228.8h0M301.3 234.2h0M335.3 200.6h0M255.6 285.7h0M319.6 226h0M293.4 247.7h0M309.8 201.3h0M336.6 204h0M271.5 266.9h0M316.2 227.3h0M306.8 215.7h0M328.9 206.3h0M364.3 174.7h0M314.9 233.8h0M343.4 201.8h0M274.4 265.3h0M289.1 257.4h0M280.2 260.8h0M240.2 292.4h0M246.4 297.7h0M330.3 180.8h0M340.6 193.2h0M287.3 238.9h0M277 258h0M293 251.2h0M285.7 251.8h0M275.2 258.8h0M265.1 265.4h0M369.6 170.2h0M299.3 231.9h0M278.5 264.9h0M302 234h0M317.6 222h0M303.8 236.8h0M301.2 241.7h0M370.9 172.5h0M370.8 174.7h0M262.7 276.1h0M277.2 269h0M345.4 203.6h0M268.6 273.2h0M279.7 252.1h0M330.9 211.1h0M275.1 265.9h0M297.4 245.5h0M310.9 225.1h0M248.7 290.4h0M291.8 244.4h0M301.8 236.2h0M343.4 192.9h0M297.9 242.4h0M289.3 249.6h0M273.5 261.8h0M302.3 216.9h0M313.9 223.3h0M304.4 234.6h0M360.4 183h0M369.2 172.9h0M308.4 225.6h0M240.4 294h0M264.2 278.4h0M280.6 251.5h0M311.3 231.7h0M272.6 267.4h0M349.7 187.3h0M317.9 217.5h0M302.4 231.1h0M276.9 268.1h0M338.2 201.8h0M267.4 273.9h0M232.4 303.8h0M334.3 201.4h0M325.5 213h0M293.9 246h0M308.1 232.3h0M290.9 249.1h0M311.5 228.3h0M237.9 302.4h0M329.6 213.9h0M342.2 190.5h0M280.3 253.7h0M259.4 276.6h0M367.6 177.7h0M302.4 192.2h0M305.9 236.9h0M298 238.6h0M279.2 257h0M324.4 226h0M307.9 234h0M272.4 265.2h0M332.5 208.3h0M345.3 180.6h0M266.3 266.6h0M254.5 283h0M301.2 241h0M274.1 265.1h0M344 196h0M351.4 186.4h0M227.3 307h0M253.2 277.3h0M330.8 211.5h0M280.2 248.6h0M317.5 229.5h0M372.7 173.3h0M313.2 230.1h0M369.9 168.8h0M264.9 267.7h0M340.7 201.1h0M297.6 240h0M342.2 199h0M303.9 227.8h0M309.4 224.3h0M279.3 257h0M302.4 234.3h0M281 256.6h0M279.5 255.6h0M293.8 249.4h0M331 201.7h0M294.9 243.7h0M321.6 214.2h0M325.8 219.2h0M294.5 238.1h0M314.1 218.8h0M372.6 171.3h0M290.6 252.4h0M305.3 236.7h0M297.7 238.3h0M310.8 223.5h0M296.8 251.8h0M307.7 236h0M325.1 212.9h0M243.2 295.4h0M311.6 226h0M361.6 176.1h0M340.1 197.8h0M347.5 190.5h0M275.8 272.6h0M291.9 250.6h0M307.6 227.8h0M325.2 219h0M331.3 213.2h0M284.4 254.9h0M297.6 245.1h0M352.6 205h0M360.9 178.1h0M323.1 223.4h0M261.9 274.6h0M265.5 268.2h0M295 236.9h0M266.3 269.4h0M305.7 232.9h0M265.1 271.3h0M326.4 212.3h0M278.5 263.1h0M339.7 201.7h0M284.6 255.1h0M269.2 275.5h0M301.3 240.6h0M324.5 237h0M321.6 219.7h0M353.5 189h0M304.7 227.4h0M244.9 279h0M336.3 206.2h0M252 284.8h0M331.6 218.6h0M294.7 244.4h0M281 259h0M323.5 222.3h0M248.6 291.7h0M277.9 263.8h0M295.3 248.3h0M260.1 275.1h0M308 233.7h0M243.3 286.1h0M274 267.4h0M295.9 245.1h0M336.6 211.5h0M324.8 218h0M303.3 216h0M241.2 293.2h0M320.1 220.9h0M342.3 203.7h0M276.9 281.4h0M353.5 186.6h0M314.9 242.4h0M317.6 224.2h0M324.8 219h0M274.5 259.2h0M266.4 270.7h0M271.3 260h0M370 169.3h0M352 188.4h0M319.2 211.5h0M329.6 206.1h0M326.5 210.4h0M322.2 228.3h0M303.2 237.8h0M294.1 248.1h0M300 237h0M348.5 194.9h0M274.7 254.9h0M298.8 243.2h0M258.1 278.3h0M336.1 201.6h0M264.6 278.7h0M368.5 173.9h0M287.5 260.3h0M284.6 258.9h0M255 282.7h0M325.3 210.1h0M342.3 205.1h0M327 213.9h0M259.2 280h0M244.2 300.1h0M257.6 276.2h0M303 240.4h0M315.1 219.9h0M243.2 294.1h0M309.8 218.4h0M362.3 183.1h0M316.4 225.3h0M264.3 281.9h0M299.6 240.9h0M334.2 216.6h0M363.9 172.6h0M359.6 185.1h0M314.4 235.2h0M292.8 244.4h0M266.5 273.8h0M256.9 281.4h0M355.8 186.9h0M325.3 214.6h0M291.3 249.4h0M329.4 204.7h0M323.6 213.9h0M276 258.8h0M319.3 229.1h0M258.9 273h0M285.7 253.4h0M357.9 183h0M369.9 172.1h0M268.4 258.5h0M334 208.1h0M320.4 216.4h0M241.9 293.9h0M288.9 251.3h0M317.7 248.1h0M267 263.8h0M285.3 253.6h0M354 189.5h0M245.6 289.1h0M336.6 196.3h0M300.6 238.7h0M275.1 261.6h0M269.9 262.4h0M317.9 221.6h0M331.5 214h0M320.2 228h0M304.9 232.5h0M293.1 239.4h0M350.6 196.6h0M307.5 230.5h0M310.9 229h0M356.3 178.1h0M312.9 229.1h0M266.9 264.6h0M245.2 286.6h0M300 233.3h0M328 209.1h0M248 290.5h0M353 200.3h0M269.5 267.6h0M314.1 222.2h0M285.2 253.3h0M314.8 223h0M281.5 257.4h0M260.8 272h0M304.8 232.2h0M274.4 265h0M287 247.8h0M345 191.3h0M322.1 228.3h0M319.6 220.9h0M360.9 179.3h0M264.3 268.6h0M365.2 177.6h0M319.8 214h0M293.8 241.9h0M267.6 272h0M278.7 260.5h0M270.5 272.5h0M300.7 237.3h0M325.4 213h0M309.1 225.1h0M283.8 262.5h0M335.2 206.4h0M326.5 217.6h0M260.9 280.3h0M312 233h0M325.7 223.1h0M339.7 211.9h0M284.4 249.8h0M282.1 245.1h0M321.8 223.1h0M319 224.7h0M335.1 200h0M355.8 189.8h0M342 197.2h0M339.6 195.7h0M331.5 204.7h0M361.5 179.6h0M279.6 256.7h0M272 265.3h0M308.2 231.7h0M304.1 254.9h0M279.8 245.2h0M274.7 261.3h0M259.1 285.2h0M247.9 298.7h0M299.2 236.9h0M294.5 243.6h0M325.4 217.2h0M283.9 253.8h0M312.6 228.1h0M294.9 247.6h0M286 253.3h0M313.1 225.6h0M330.9 208.1h0M307 226.8h0M300.3 231.3h0M316.5 220.9h0M303.6 234.3h0M273.4 261.6h0M288.6 229.3h0M356.2 177h0M270.2 266h0M362.4 185.9h0M276.9 263.6h0M287.5 247h0M288.8 258.4h0M343.4 200.9h0M233.7 302.6h0M299.6 241.7h0M272.2 271h0M338.6 202.4h0M338.9 202.6h0M300.3 246.6h0M274.3 269.9h0M281.5 259h0M291.4 244.3h0M307 228.5h0M363.5 179.2h0M318.1 224.5h0M319.5 217.5h0M315.6 218.4h0M321 222.1h0M354.4 182h0M291.6 246.5h0M284.1 256.3h0M363 182h0M278.6 269.4h0M345.2 188.1h0M350.7 197.2h0M367.4 179h0M287.5 250.5h0M305.5 233.5h0M365.8 179.8h0M306 230h0M365.4 182.7h0M324.9 215.1h0M335.9 198.4h0M287.4 260.1h0M358.8 184.4h0M293.3 248.4h0M334.1 203.8h0M240.6 290.8h0M321.2 211.8h0M321.6 220.4h0M370.6 171.2h0M279.3 257.1h0M288.4 248.5h0M243.5 287.9h0M324.7 193.7h0M258.3 281.5h0M284.9 247.5h0M259.8 280.7h0M314.5 223.6h0M263.1 278.8h0M288.4 246.3h0M347.6 194.1h0M286.5 250.3h0M319.1 227.1h0M295.7 253.5h0M278.8 254.6h0M320 221.2h0M269.9 266.4h0M268.1 269.5h0M290.7 243.8h0M311 222.6h0M259 278.1h0M352.8 188h0M305.6 204.4h0M328.5 215h0M262.5 273.5h0M269.6 268h0M337.7 206h0M280.7 256.7h0M317.2 227.8h0M371 171.9h0M379 166.8h0M282.6 263.1h0M296.3 245.6h0M350.2 192h0M255.6 281.9h0M299 237.8h0M313.1 226.9h0M317.3 223.2h0M321.8 216.8h0M338.8 200.5h0M320.3 221.5h0M323.4 224h0M342.3 199.3h0M282.3 270.9h0M289.7 246.8h0M335.9 196.7h0M366.1 177.6h0M347.1 197.2h0M279.5 260.8h0M302.7 240.4h0M292.2 247.4h0M270.3 266.3h0M274.5 259.1h0M291.2 252.4h0M300.5 242.5h0M325.1 218.8h0M261.4 276.9h0M275.8 255.3h0M309.7 222.8h0M305.3 266h0M334.6 207.4h0M352.5 185.1h0M343.6 193.7h0M293 248.1h0M325 223.9h0M283.3 264.4h0M330.1 217.6h0M321.1 220.2h0M317.6 219h0M284.9 254.3h0M259.8 274h0M319.8 225.1h0M299.9 240.2h0M274.9 259.4h0M308 201.4h0M252.4 286.5h0M286.8 260.7h0M343.2 198.9h0M321.9 221.9h0M300.6 241.3h0M348 187.5h0M352.1 160.4h0M263.8 267.9h0M245 288.2h0M346.2 192.9h0M241.5 296.1h0M328.5 207.8h0M323.6 215.3h0M281.2 261.6h0M307.7 228.8h0M307.3 230.6h0M291.3 250.7h0M292.1 240.7h0M295.6 274.1h0M287.2 257.4h0M316.4 206.8h0M296.5 242.2h0M337.4 203.5h0M355.8 192.5h0M293.3 245.5h0M267.3 267.3h0M322.3 223.2h0M323 217.5h0M290.2 254.4h0M318.8 225.1h0M300.1 236h0M292.6 239.2h0M280.9 262.6h0M293.9 249.3h0M364.8 175.1h0M287.2 244h0M351.2 192.8h0M256.3 286.3h0M307.1 220.1h0M295.7 238.6h0M360.6 182.9h0M359.8 181.3h0M314.3 243.3h0M316 223.4h0M368.4 177h0M365.6 172.4h0M301.9 233.7h0M279.8 249.6h0M285.3 253.4h0M302.9 239.8h0M318.6 220h0M271.1 273.6h0M336.2 201.9h0M283.3 255.7h0M302.2 239.1h0M330 206.6h0M244.5 279.1h0M327.8 210h0M242.1 286.3h0M341.2 197.2h0M353.6 185.3h0M245.2 287.1h0M290.1 246.5h0M282.6 239.2h0M308.9 233.8h0M334.4 216.1h0M339.1 199h0M323.6 215.3h0M338.8 200.6h0M277.7 265.5h0M312.5 218.2h0M310 220.9h0M287.4 233.4h0M347 190.5h0M263.7 266.1h0M266.2 275.9h0M306.4 223.9h0M307.1 236.2h0M266.6 261h0M298.3 252h0M288.3 257.3h0M286.3 250.8h0M281.7 261.7h0M326 215.6h0M290 249.1h0M248.8 288.6h0M255 270.8h0M260.5 279.4h0M311.8 201.5h0M309.6 234.1h0M254.6 281.8h0M321.7 217.7h0M319.2 208.8h0M282.8 261.1h0M270.6 295.9h0M279.5 262.4h0M268.9 274.5h0M340.8 196.1h0M253.2 276h0M314.1 217.2h0M289.7 235.2h0M322.1 219.2h0M283.6 264.8h0M266.9 272.6h0M349.4 189.7h0M348.7 191.3h0M297.4 246.2h0M308 235.4h0M348.2 194.3h0M354.6 186.4h0M303.4 235.9h0M328.3 216.9h0M284.3 258.7h0M268.5 267.6h0M365 171.3h0M339.8 207.6h0M370.1 173.4h0M271.7 267.4h0M323.5 219.8h0M300.2 241.9h0M272.5 247.1h0M277.4 265h0M322.2 213.5h0M338.9 202.5h0M266.6 278h0M340.4 203.6h0M318.5 216.6h0M368 172.2h0M319.4 223.9h0M363.6 179.7h0M301.9 234.9h0M250.9 283.1h0M319 221.6h0M253.1 284h0M279.4 260.3h0M265.4 274.4h0M310.5 232.8h0M303.4 236h0M285.1 266h0M273.4 266.9h0M255.1 287.2h0M230 304.9h0M305.8 233.1h0M300.9 242.3h0M319 215.5h0M330.9 207.7h0M275.9 259.6h0M374.5 170.2h0M262.2 274.4h0M293.5 237.6h0M276.8 265.5h0M286.3 261.6h0M308.6 228.7h0M294.6 233.6h0M262 274.2h0M283.7 263.7h0M265.5 272.4h0M286 258.7h0M284.7 252.5h0M323.7 216.8h0M303.3 238h0M310.2 226.5h0M328.1 214.5h0M266.3 264.8h0M323.1 226.3h0M330.1 209.3h0M359.1 187.2h0M269.7 274.1h0M324 209.9h0M297 236.4h0M298.5 238.5h0M280.3 261h0M288.9 264.1h0M309.2 220.5h0M305.4 232h0M292.1 239.2h0M311 220h0M330.1 217.2h0M252.6 286.1h0M287.6 248.5h0M307.8 232h0M287.4 243.7h0M265.4 291.5h0M265.8 276.8h0M279.1 258.5h0M331.9 201.4h0M274.2 260.2h0M263.3 272.7h0M284.4 275.2h0M314.9 222.1h0M294.1 245.5h0M313.5 229.6h0M266.7 261.6h0M287.2 250.6h0M279.5 259.8h0M242.8 293.2h0M357.4 181.7h0M319.4 222.8h0M320.9 216.3h0M361 180.9h0M289.9 251.5h0M345.3 194.8h0M245.4 284.3h0M307.6 227.9h0M318.8 227.1h0M307.5 228.2h0M324.6 217.9h0M290.4 248.3h0M285 259h0M268.3 265.9h0M241.2 300.8h0M364.5 179.3h0M329.8 215.9h0M331.7 206.7h0M346.7 192.4h0M332.1 212.4h0M339.3 199.5h0M346.6 196.2h0M308.8 226.4h0M302.6 230.7h0M245.4 293.3h0M284.9 251h0M321.7 222.7h0M353.8 185.4h0M311.7 225.2h0M324.3 213.9h0M285.3 244.9h0M308.7 223.9h0M268.2 246.5h0M283 257.8h0M256 284.6h0M291.6 249.7h0M337 205.3h0M304.1 231.3h0M312.9 229.7h0M247.4 289.3h0M331.5 208.8h0M290.6 248.2h0M240.4 302.1h0M289.5 256.5h0M332 214.9h0M299.3 235h0M291.7 239.7h0M286.4 255.6h0M289 254.5h0M281.8 252.6h0M318.3 214.9h0M242.7 290.1h0M257.8 279.7h0M305.6 231.6h0M289 252.2h0M260.8 267.8h0M308.3 229.9h0M339 199.8h0M316.3 215.6h0M343.5 198.6h0M314.2 227.4h0M281.2 261.8h0M278.2 256.5h0M290.4 250.1h0M304.8 230.9h0M368 174.1h0M278.5 254.4h0M283.3 261.1h0M303.9 236.6h0M316.6 237.2h0M323.8 216.4h0M371.5 172h0M372.3 168.7h0M332.2 210.3h0M350.4 189.8h0M283.6 261.6h0M342.3 197.5h0M318.2 214.5h0M313.1 228h0M367.5 171.9h0M330 217.9h0M257.6 278.5h0M337.4 201.3h0M369.5 174.4h0M367.3 178.1h0M285.7 247.2h0M334.8 198.8h0M297.8 241.9h0M274.6 261.2h0M237.7 298.2h0M290.3 250.1h0M366.5 174.4h0M270 259.2h0M314.9 227.1h0M250.5 280.3h0M313.2 226.4h0M286.6 249.9h0M263.4 271.3h0M365.6 179.7h0M297.1 241.4h0M242.7 284.1h0M258.8 274h0M293.1 241.7h0M295.9 250.4h0M347.7 194.1h0M326.3 218.4h0M259.7 273.1h0M263.9 282.7h0M293.7 248.6h0M302.9 240.3h0M322.9 218.8h0M287.9 244.3h0M329.2 207.5h0M295.5 236.9h0M360.1 175.7h0M264 279.3h0M345 192.8h0M272.6 258.6h0M369 177.5h0M333.1 204.3h0M303.2 241.2h0M337.9 209.4h0M351 192.1h0M290.5 242.9h0M301.3 243.2h0M274.9 271.8h0M372 169.9h0M306.8 236.6h0M333.5 206.5h0M326.2 198.1h0M310.9 230.4h0M288.4 254.8h0M249.7 286.2h0M352.6 191h0M324.3 220.4h0M296.8 243.3h0M361.3 181.5h0M280.4 262.5h0M261.3 277.8h0M278.7 256.8h0M300 240.4h0M282 255.8h0M275.7 265h0M336.6 205.3h0M279.7 260.9h0M310.9 224.2h0M303.5 238.1h0M280.4 254.7h0M352.8 187.4h0M300.6 243.5h0M310.4 217.8h0M299.8 238.9h0M244.5 288h0M352.5 189.3h0M360.3 169.1h0M313.6 221.1h0M335.4 206.6h0M342.9 196.8h0M342.7 198h0M283 256.3h0M371.5 171h0M355.2 188.1h0M318.1 218.5h0M335 203.5h0M338.2 204.4h0M288.5 247.9h0M256.7 284.1h0M370.2 172.2h0M308.4 241.4h0M329.5 199.7h0M358.9 185.2h0M308 230h0M260.8 275h0M271.4 272.4h0M333.7 198.3h0M319.1 214.7h0M262.8 275.1h0M300.2 243.3h0M327.6 219.3h0M328.2 209.2h0M303.8 235.8h0M312.4 237h0M368.5 174.9h0M277 269.3h0M269.8 246.6h0M277.7 257.8h0M370.3 175.9h0M296.8 239.6h0M313.5 216.3h0M324.3 212.5h0M278.8 260.5h0M344.5 178.8h0M314 206.4h0M292.3 256.2h0M311.1 253.6h0M338.5 204.5h0M315.9 220.6h0M316.1 220.5h0M354 194.7h0M315 226.9h0M274.8 260.1h0M284.5 254h0M273.1 255.3h0M369.4 172.8h0M283.2 244.7h0M276.8 264.1h0M295.7 228.8h0M287.2 252.6h0M255 278.9h0M241.2 293.4h0M242.3 294h0M302.6 232.4h0M251.9 289.1h0M346.9 199.5h0M293.7 247.7h0M333.7 208.3h0M279.8 261.5h0M330.9 212.8h0M326.2 210h0M282.4 249.3h0M362.2 184.1h0M330.4 207.7h0M291.8 246.3h0M259.6 287h0M322.5 216.7h0M332.9 203.9h0M305.4 229.3h0M340.9 194.6h0M272.8 263h0M367.5 181.6h0M291.2 247h0M318.5 219.9h0M267 273.9h0M298.5 199h0M257.4 272.1h0M299.7 241.5h0M286.6 245h0M260.3 277.5h0M278.4 269.2h0M305.8 241.3h0M339 200.7h0M252.3 290.8h0M254.5 281.6h0M305.8 235.1h0M296.6 234.5h0M326.7 217.6h0M255.1 280.3h0M302.1 238.4h0M328.8 213.6h0M349.6 197.7h0M301.9 236.3h0M336.9 200.1h0M300.2 243.8h0M282.5 258.1h0M356.1 192.4h0M304.8 239.2h0M303.5 237.7h0M291.6 249.5h0M242.5 294.3h0M330.6 211.6h0M272.8 269.2h0M307.2 232.7h0M316.7 220.6h0M331.1 217.3h0M303.4 238.6h0M303 234.5h0M294.9 248.7h0M284.6 247.3h0M299.3 239.1h0M296.4 232.9h0M306.9 240.2h0M348.4 187.2h0M258.2 276.5h0M303.4 233.6h0M359.3 182.6h0M303.5 231.4h0M297.9 249.9h0M343 202.4h0M347.9 188.1h0M286.2 253.5h0M284.7 258h0M346.7 209.3h0M297.4 247.4h0M352.4 186.8h0M301.1 245.6h0M305.7 234.5h0M314.3 210h0M302.9 231.9h0M323.3 211.8h0M356.1 184.1h0M336.2 207.8h0M285.2 245.1h0M333.3 206.8h0M296.5 245h0M303.8 238.2h0M328.5 208.8h0M294.6 233.8h0M265.5 272.7h0M294.2 249.7h0M364.4 178.4h0M304.7 241.1h0M261.2 273.1h0M293.4 235.6h0M290.6 251.4h0M308.2 235.6h0M262.4 275.9h0M328 216.1h0M349.3 196.1h0M310.2 227.4h0M287 246.5h0M306.9 242.8h0M302 237.9h0M316.6 226.7h0M308.6 227.6h0M303.2 237.6h0M290.1 251.2h0M282.3 259.5h0M333.1 203h0M316.3 221.2h0M342.2 191.3h0M349.6 193.8h0M318.5 231h0M240.2 285.6h0M295.9 244.7h0M343.3 191.4h0M291.7 255.5h0M321.7 218.2h0M332 210.4h0M351 184.6h0M296.1 242.6h0M311.9 235.2h0M333.3 204.7h0M249.5 283.6h0M345.1 194.1h0M313.1 223.5h0M297.4 238.2h0M256.8 283.2h0M279.2 261h0M343.8 200h0M256.8 282.2h0M246.9 264.1h0M309.2 203.6h0M286.7 247.9h0M326 208.5h0M316.4 223.1h0M277.9 266.6h0M273.1 272.2h0M363.5 177.9h0M297.7 233.2h0M341.8 195.7h0M330.3 209.7h0M354.8 188.3h0M313.5 231.8h0M342.9 199.5h0M303.9 228.5h0M313.7 218.4h0M309.7 251h0M278.2 270.6h0M328.5 211.4h0M366 174.2h0M373.1 171.8h0M246.8 286.6h0M371.8 171.3h0M286.1 245.4h0M281.4 260.8h0M296.9 239.8h0M310 213.6h0M268.6 264.8h0M324.8 217.6h0M330.3 205.3h0M290.4 249.5h0M370.9 174.8h0M297.9 241.8h0M293.8 239.8h0M342.2 207.1h0M338.1 205.7h0M314.4 229.1h0M291.3 249.1h0M352.8 183.1h0M339.4 209.1h0M265.6 271.2h0M312.2 224.4h0M298.3 239h0M327.8 219h0M263.9 274.5h0M328.3 210.7h0M275.9 264.9h0M295.9 230.9h0M230.4 306h0M297.8 247.7h0M319.2 215.9h0M308.1 221.6h0M310.8 230.4h0M299.4 239.3h0M315.5 217.3h0M287 256.5h0M341.2 198.5h0M319.2 217h0M313.6 223.5h0M359.4 183.2h0M244.2 275.7h0M275.8 262.9h0M270.9 268.6h0M292.6 240.8h0M348.3 193.8h0M302.1 237.3h0M283.7 252h0M326.2 214.8h0M333.4 205.2h0M316.3 221.9h0M316.3 223h0M309.4 233.3h0M246.1 293.7h0M247.2 293.5h0M307.4 230.5h0M263.4 280.5h0M303.7 239.6h0M300.9 243.1h0M304 231h0M363.4 184.7h0M297.3 242.8h0M304.1 233.8h0M322.4 213.4h0M308.7 238.7h0M370 171.6h0M278.8 255.5h0M252.7 286.3h0M289.4 249.8h0M310.3 237.3h0M346.6 201.6h0M271.6 276.9h0M360.3 159.2h0M350.5 195.2h0M285 264.1h0M315.7 222.5h0M271.2 264h0M253.2 280.3h0M285.2 257.1h0M281.8 257.6h0M284.3 255.7h0M332.3 206.5h0M290 258.6h0M322 225.1h0M265.2 265.4h0M285.4 255.7h0M263 271.4h0M355 189.9h0M337.8 207.5h0M283.3 250.2h0M313.7 213.3h0M320.1 219.1h0M297.7 238.7h0M315.1 219.3h0M299.8 242.8h0M249.7 281.2h0M346.9 198.2h0M263.5 269h0M350.1 194.5h0M280.6 256.7h0M313.7 219.2h0M341.1 218.5h0M296.2 245.3h0M326.5 220.4h0M372.9 169.3h0M282.7 260.7h0M286.8 249.8h0M304.5 235.3h0M330.5 212h0M282.6 261.5h0M348.6 192.1h0M294.3 236.3h0M319 217.4h0M352 179.4h0M287.7 251.5h0M285 251.2h0M289.5 255.1h0M263.4 276.4h0M281.4 261.8h0M310.8 220.7h0M248.1 287.8h0M262.3 266.5h0M349.7 190.7h0M259 281.5h0M326.7 222.1h0M292.8 239.5h0M368.6 177.7h0M313.1 214.7h0M340.5 195.4h0M297.7 244h0M346 201.6h0M344.9 196.9h0M317.3 226.6h0M291.6 254.6h0M346.6 220.1h0M308.4 229.7h0M336.9 198.3h0M312.8 228.1h0M287.7 253.6h0M273.6 235.8h0M335.2 205.6h0M311.8 234.1h0M299.9 244.6h0M275.3 258.1h0M286.1 263.5h0M340.2 198.4h0M321 212.1h0M269.1 270h0M240.3 277.8h0M290.4 248.7h0M301.7 230.4h0M283.8 251.7h0M309.2 224h0M242.1 297.5h0M279.6 260.4h0M358.9 185.3h0M274.7 260.3h0M263.6 260h0M311.5 228.2h0M276.7 265.4h0M341.2 202.6h0M283.1 255.6h0M301.5 244.4h0M267.4 274.5h0M337.2 208h0M285.8 253.6h0M344.5 191.6h0M313.2 221.6h0M325.4 213.9h0M273.9 269.3h0M332.3 201.4h0M319.8 226.6h0M252.7 286.4h0M328 219.2h0M314.7 227.2h0M291.7 249.2h0M292.4 235.8h0M304 240.7h0M334.8 200h0M280.5 255.4h0M254.3 284h0M309.4 232.8h0M279.3 258.9h0M301.3 234.4h0M344.4 199.1h0M240.2 296.6h0M282 253.6h0M249.2 290.9h0M270.1 269.5h0M294.2 246.7h0M280.5 258.1h0M246.3 294.9h0M327.6 220.8h0M308.9 236.8h0M324.1 218.6h0M350.5 189.5h0M288.4 248.2h0M303.1 239.2h0M317.1 216.6h0M284.2 230.5h0M310.9 236.2h0M291.9 241.8h0M310.6 231.6h0M272.8 265.9h0M290.5 242.3h0M340.7 199h0M233.5 300.1h0M340.3 207.3h0M342.2 208.7h0M346.9 196.9h0M325.1 219.1h0M308.9 229.7h0M321.6 221.7h0M314.6 223.5h0M363.8 171.7h0M253.1 287h0M361.7 174.1h0M326.7 214.4h0M337.1 196.4h0M301 237.1h0M336.1 209.8h0M289.8 255h0M360.5 182h0M280.7 258.7h0M363.4 177.7h0M340.5 194.8h0M356.2 178.3h0M345.5 182.3h0M297.3 243.8h0M290 243h0M357.8 185h0M269.1 263.6h0M256.2 276.8h0M308.1 226.3h0M336.6 211.6h0M243.1 293.4h0M304.7 229.3h0M272 265.2h0M263.9 268.1h0M309 236.4h0M356.9 182.5h0M328.2 202.1h0M279.1 257.2h0M289 233.5h0M263.5 278h0M286.9 260.5h0M308.5 231.2h0M241 297.2h0M286.2 259.1h0M373 169.8h0M293.4 239.6h0M298.6 238.7h0M311.8 230.2h0M323.1 222.2h0M274.8 261.3h0M331.7 209.8h0M297.8 239.9h0M371.9 170.2h0M319.1 223.6h0M325.2 222.7h0M351.9 186.9h0M290.1 241.9h0M316.2 219.1h0M271.5 263.8h0M285.3 255.8h0M240.9 293.6h0M329 204.3h0M231.3 303.7h0M272.9 265.9h0M293.5 254.9h0M295.4 237.5h0M288.8 252.2h0M340.3 186.1h0M364.8 175.3h0M275.6 257.9h0M325.1 213.7h0M331 204.9h0M281.3 260.6h0M346.8 193.3h0M279.5 258.6h0M259.5 279.8h0M362.7 176.2h0M289.8 248.1h0M352.4 179.6h0M330.8 203.3h0M259.8 262.2h0M298.7 245.8h0M294.4 250.7h0M335.1 202.7h0M250 285.9h0M270.9 264.9h0M314.2 228.7h0M288 251.3h0M279.4 256.9h0M258.7 282.5h0M303 250h0M315.2 233.3h0M316.4 224.7h0M271 261.9h0M248.5 294.2h0M258.1 280.5h0M294.7 240.3h0M311.7 224.8h0M269.2 247.2h0M341.4 212h0M283.6 258.5h0M293.5 247.7h0M349.7 192.1h0M306.1 220.2h0M337.4 210.8h0M276.6 271.5h0M289 248.9h0M325.1 220.6h0M273.2 264.2h0M321.3 223.2h0M323.3 222.7h0M372.5 169.4h0M324.9 216.8h0M354.1 200.4h0M259.9 275.6h0M272.7 263.8h0M294.4 239.4h0M281.2 246.5h0M256.9 279.4h0M354.7 186.5h0M309.5 232.4h0M282 262.7h0M290.7 251.1h0M282 253.9h0M286.5 245.6h0M298 239.3h0M346.7 198.4h0M342.4 197.1h0M267.7 275h0M246.3 291.9h0M282.8 256h0M296.1 252.6h0M314.2 232.1h0M369.8 161.7h0M326.4 215.5h0M246.4 282.2h0M296.1 237.7h0M266.4 269.3h0M286.9 248h0M280.8 262.2h0M348.2 198.1h0M323.9 221.1h0M338.2 201.1h0M346.5 193.6h0M348.8 195.8h0M316 220.6h0M313.1 225.3h0M331.6 218.5h0M247.9 289.1h0M300.7 240.6h0M276.2 257.7h0M298.9 241.7h0M298 238.1h0M256.4 274.7h0M240.8 295.9h0M333.6 207.8h0M326.4 212.3h0M279.3 259h0M288.2 257h0M344.1 195.1h0M288.4 257.1h0M263.9 273.9h0M354.3 185.1h0M339.6 195.3h0M274.3 263.3h0M285.3 255.4h0M262.1 277.4h0M280.5 264.3h0M312.4 233.5h0M318.7 223.5h0M252.3 286.6h0M332.6 207.3h0M315.6 218.7h0M252.6 285.8h0M340.3 211.3h0M285.9 244.6h0M282.1 258.1h0M334.9 209.6h0M307.7 208.1h0M262.1 273.7h0M358.4 180.6h0M344.5 197.8h0M303.8 243.6h0M285 253.1h0M241 289h0M242.8 292.6h0M312.7 230.7h0M334.8 209h0M252.1 287.3h0M257 287.8h0M268.7 268.6h0M359.9 189.5h0M310.3 220.5h0M291 233.9h0M299.1 224.3h0M324.6 217.1h0M271.1 261.8h0M248.5 284.1h0M280 254.2h0M258.3 277.5h0M288 250.2h0M276 271.3h0M319.8 220.9h0M296.3 244.7h0M286.5 248.5h0M301.1 230.8h0M311.1 226.9h0M326.3 219.2h0M362.8 156.8h0M370 174.3h0M369.8 166.9h0M299.6 231.3h0M357.1 185.2h0M287.6 254.4h0M346.8 193.7h0M299 230.2h0M350.5 189h0M244.6 289.6h0M285.4 239.4h0M338.1 199.8h0M260.3 280.9h0M338.3 205.3h0M306.3 226h0M281.4 259.1h0M314.5 226.9h0M331.1 214.5h0M312.6 224.4h0M302.6 241.4h0M311.8 221.7h0M290.5 243h0M299.2 250.1h0M326 212h0M266 276.6h0M254.3 277.7h0M271.1 242.9h0M292.6 245.6h0M277.4 265.4h0M280.6 260.2h0M284.6 250.2h0M306.5 213.7h0M345.9 198.1h0M330 208.5h0M249.9 287.7h0M359.1 183.9h0M377.7 168.3h0M314 220.4h0M337.4 201.6h0M349.1 222.5h0M264.6 270.8h0M343.4 180.6h0M328.1 213.1h0M248.5 281.5h0M283 253.2h0M327.6 211.7h0M326.9 217.3h0M346.3 193.5h0M284.8 249.9h0M301.3 231.3h0M305.9 236.3h0M258.7 279.5h0M326 212.9h0M248.8 285.2h0M278.1 261h0M339.6 199.5h0M262.8 271.6h0M323 212.8h0M301.9 241.6h0M248.9 286.7h0M324.7 210.7h0M313.5 221.5h0M304 234h0M309 236.1h0M296.1 240h0M269.3 270.7h0M285.5 249.6h0M337.5 198.1h0M288.5 248.7h0M295.5 252.8h0M295 239h0M343.9 197.4h0M295.5 244.7h0M257.1 286.5h0M304.7 241.4h0M263.2 275.2h0M314.9 221.1h0M364 178.2h0M336.1 210.6h0M331.4 210.9h0M292.2 260.9h0M316 220.5h0M286.8 248.7h0M248.7 288.6h0M361 184.3h0M253.2 285.5h0M318.6 225h0M354.6 180.7h0M274.7 268.5h0M345.9 193.4h0M314.8 217.6h0M252.9 290.4h0M282.1 269.2h0M284.3 253.7h0M266.1 270.7h0M307.8 238.9h0M301.8 236.6h0M284.5 253.1h0M334.9 210.4h0M270.3 265h0M318.8 219.6h0M295.2 242.2h0M321.9 225.6h0M276.2 248.3h0M368.1 175.8h0M292.9 244.7h0M353.1 185.8h0M297 247.7h0M310.8 212.3h0M267.2 244.8h0M314 229.2h0M291.1 257.7h0M264.6 267.8h0M296.3 241.2h0M279.7 248.4h0M287.8 249.2h0M251.8 284.1h0M309.2 227.1h0M272.4 264.7h0M308.7 195.8h0M360.7 180.6h0M369.3 173.2h0M362 180.2h0M271.2 275.7h0M299.2 233.7h0M297 239.5h0M277.8 256.3h0M278.5 252.3h0M266.5 267.4h0M261.8 270.2h0M242.3 286.1h0M313.6 226.3h0M288.5 252.4h0M273.7 267.8h0M357 181.6h0M261.1 277.3h0M271.7 267.7h0M289.9 245.6h0M253.5 286.6h0M262.2 282.5h0M319.4 223.1h0M321.9 221.5h0M263.2 270.2h0M254 284.4h0M335.6 202.7h0M337.7 202.7h0M303.5 239.2h0M300.8 242.7h0M290.2 247.6h0M240.6 300.3h0M265 268.9h0M305.5 230.5h0M301.3 238.2h0M280.4 258.6h0M338.1 199.2h0M279.9 262.3h0M299 240.2h0M346.7 199.9h0M292.7 238.1h0M305.9 231h0M329.3 214.6h0M316 214.7h0M295.4 243.7h0M370.1 175h0M302.2 203.3h0M265.9 274.2h0M248.5 288.3h0M316.2 224.3h0M338.7 203.4h0M271.2 260.4h0M321.3 215.9h0M312.1 210.3h0M344.8 192.4h0M241.4 294.3h0M277.2 258.9h0M288.6 244.6h0M293.5 241.8h0M298.9 235.4h0M315.8 224.9h0M328.1 214.5h0M352.4 187.6h0M271.4 268h0M325.5 217.5h0M325.5 219.2h0M300.1 236.3h0M318.5 219.5h0M310.2 226.1h0M249.6 287.9h0M323.5 209.7h0M269.7 271.2h0M283.1 252.6h0M292 243.6h0M293.1 243.8h0M339.4 199.3h0M275.3 262.8h0M292.9 240.1h0M266 267.8h0M341.3 187.1h0M281.8 264.3h0M334.9 210.6h0M286.9 254.5h0M360.1 201.9h0M280.1 255h0M345.2 196.1h0M288.3 250.7h0M308 233.4h0M287.6 252.5h0M301.4 243.7h0M337.3 206.9h0M365.5 169.9h0M351.7 188h0M287.1 242.5h0M294.5 250.7h0M303.4 236.9h0M305.6 236.4h0M299.9 236.3h0M265.8 271.6h0M274.4 256.4h0M273.8 264.1h0M323.8 227.2h0M293.8 243h0M319.2 218.5h0M277.3 268h0M266.1 280.4h0M326.9 209.9h0M258.4 277.5h0M283.1 258.5h0M320.4 229.2h0M276.1 256.8h0M309.5 225.9h0M297.6 242.8h0M356.1 186h0M318.9 225.6h0M328.3 218.7h0M345.8 182.9h0M349.4 194.5h0M339.8 201.8h0M287.1 249.6h0M254.8 284.3h0M318.5 224.8h0M304.6 232h0M275 268.5h0M273.4 268h0M295.9 246.8h0M326.7 219.7h0M303.5 234.9h0M282.5 252.2h0M363.3 180.4h0M282.7 267.8h0M286.5 249.6h0M261.5 278.5h0M288.4 255.4h0M269.3 264.4h0M281.5 258.4h0M335.1 207.9h0M365.5 175.7h0M285.1 250.9h0M327.4 219.9h0M305.4 213.8h0M322.5 221.4h0M250.3 302.9h0M310.2 229.3h0M272.5 255.5h0M268.6 271.8h0M312.7 231.9h0M272.7 265.2h0M312.1 218.1h0M323.1 226.4h0M370.6 171.4h0M270 240.4h0M263.7 264.3h0M288.4 243.3h0M362.1 169h0M317.8 217.9h0M297.8 257h0M289.9 245.3h0M368.3 173.6h0M307 235.1h0M329.8 216.6h0M365.5 175.8h0M339.7 204.6h0M274.9 253.2h0M315.2 226.6h0M373.4 162h0M271.2 272.7h0M284.8 247.5h0M302.3 237.6h0M303 228.9h0M275 270.2h0M266.5 272.6h0M341.3 209.9h0M295.2 276h0M273.1 255h0M283 258.2h0M298.3 246.2h0M326.9 240.4h0M336.4 209.6h0M295.7 249.7h0M369.7 170.3h0M373.7 169h0M326.3 221.1h0M305.1 233.7h0M330 198h0M257.4 276.9h0M260.6 279.1h0M242 293.2h0M256.4 274.2h0M295.1 243.4h0M274 262.3h0M287.3 252.3h0M295.8 245.2h0M310.4 237.1h0M293.2 235.8h0M297.9 247.5h0M301.8 235.8h0M312.5 230.3h0M258.5 269.5h0M333.2 211.8h0M276.5 268.3h0M296.1 248.2h0M252.5 290.1h0M331.6 210.9h0M277.7 254.6h0M292.2 251.9h0M291.7 254h0M301.7 238h0M302.3 232.9h0M275 261.4h0M283.2 257h0M288.6 245.5h0M353.9 188h0M330.5 227.5h0M341.4 200.1h0M324.3 216.9h0M372.6 170.7h0M286.4 251.1h0M265.4 295.2h0M319.1 220.8h0M307.1 223.7h0M336.2 204.9h0M284.6 251.5h0M240.1 299.3h0M283.1 263.4h0M274 264.9h0M256.2 288.7h0M264.7 269.7h0M355.8 188.5h0M349.4 194.4h0M312 220.7h0M343.7 201.4h0M301 232.2h0M246.5 299.1h0M323.8 218.9h0M313.9 228.5h0M297.8 236.1h0M291.3 247.4h0M256.8 281h0M331.4 208h0M302.4 234.5h0M335.2 204.6h0M269.5 287.6h0M298.6 231.7h0M258.4 279.7h0M305 243.6h0M303.9 226.2h0M273.9 256.7h0M282.1 259.4h0M310.8 223h0M355.4 187.1h0M293.9 256.7h0M257.3 286h0M303.4 224.9h0M305.1 234.3h0M316.8 227.3h0M279.8 255.9h0M321.2 218.9h0M329.5 207.3h0M360.4 179.2h0M289.7 252.3h0M294.9 245.1h0M276.8 261.8h0M276.5 263.5h0M267.3 276.2h0M276.3 255.9h0M338.4 205.9h0M287.8 252.7h0M370.3 171.2h0M357.4 181.9h0M271.5 268.9h0M338.9 208.7h0M276.2 258.4h0M287.6 243.4h0M287.5 250.4h0M283.9 245.6h0M366.8 171.3h0M267.7 276.6h0M322.3 223.5h0M315.1 218.3h0M326 212.5h0M267.7 269.6h0M317 217.8h0M255.7 275.6h0M300.7 235.9h0M260.4 277.6h0M290 242.4h0M326.5 196.3h0M331 211.9h0M249.7 279.5h0M325 216.3h0M349.8 183.2h0M257.9 271.6h0M336.3 196.3h0M370.4 174.5h0M307.4 227.9h0M298 243.1h0M246.8 285.6h0M307.7 229.6h0M295.3 248.1h0M264 266.8h0M289.8 245.6h0M254.8 276.8h0M256.5 284.9h0M270.8 235h0M307.8 230.7h0M295.7 241.5h0M320.7 226h0M283.9 257.3h0M290.5 250.2h0M339.8 204.9h0M366 175.5h0M360.3 179.5h0M345.3 197.8h0M291.5 240h0M311.3 212.6h0M348.9 190.3h0M308.9 227.9h0M334.3 209.9h0M312.5 223.9h0M317.4 228.5h0M289.6 257.6h0M335.6 199.9h0M305.4 236.4h0M307.4 230.8h0M246.1 290.4h0M270.4 269.1h0M317.8 225.8h0M338.1 198.5h0M266.9 274.7h0M326.2 219.4h0M279.2 262.1h0M309.3 218.2h0M303.7 233.5h0M269.8 268.7h0M272.8 266.6h0M316.5 223.4h0M300.8 234h0M318.5 226.1h0M347.1 188.5h0M307.5 231.5h0M334.6 207.9h0M309 233.2h0M355.1 182.8h0M260.6 282.7h0M314.1 225.9h0M365.2 174.7h0M337 202.2h0M280.2 255h0M288.4 251.9h0M317.3 227.8h0M280.2 258.8h0M282.2 258.8h0M285.2 248.5h0M246.9 289.4h0M365.3 174.1h0M307.4 226.7h0M341.5 199.4h0M341.1 208.6h0M296 247.5h0M299 237.5h0M318.3 218.2h0M318.2 219h0M339.2 198.1h0M271.1 264.2h0M302.5 238.1h0M364.9 179h0M317.7 224.3h0M333 210h0M301.5 237.6h0M291 252.7h0M332.7 203.2h0M341.2 194.6h0M307.8 266h0M274.7 270.6h0M292.8 243.7h0M325.5 215.3h0M314 220.4h0M318.6 220.6h0M246.7 291.2h0M283.8 250.6h0M366.6 167.2h0M350.5 193.5h0M243.9 297.3h0M351.9 191.8h0M292.7 253h0M366.8 174.4h0M255.8 273.1h0M310 223.3h0M254.1 281.8h0M249.9 287.5h0M313.9 225.3h0M259.6 279.2h0M331.8 206.3h0M347 195.1h0M314.2 197.8h0M328 226.1h0M264.2 278.7h0M323.1 224.6h0M363.1 179.5h0M297.9 208.7h0M320.1 219.6h0M306.4 230h0M340.4 199.2h0M365.7 179.8h0M332.1 209.2h0M303 230h0M336 203.8h0M361.6 185.7h0M349.9 188.8h0M297.1 240.4h0M273.3 254.9h0M277.3 263.6h0M284.6 250.9h0M360.3 187.3h0M318.6 231.7h0M252.5 285h0M372.8 169.1h0M275.8 264.2h0M360.6 178.5h0M272.5 263.1h0M306.4 230.5h0M332.2 209.5h0M281 261.9h0M328.4 222.2h0M321.5 217.7h0M372.8 173.9h0M309.7 225.7h0M337.9 199.6h0M336 214h0M274.1 264.1h0M275.1 263.3h0M304.5 235.8h0M302.2 236.7h0M341.8 200.9h0M293 223.6h0M253.3 282.7h0M353.5 193.4h0M371.7 172.7h0M307.8 225.9h0M276.8 253.9h0M332.2 217.6h0M275.9 258.7h0M317.7 220h0M334.2 202.9h0M273.4 264.3h0M353.2 191.2h0M319.6 223.1h0M279 260.6h0M317.8 218h0M248.5 287.8h0M306.2 235.5h0M295 242.7h0M302.7 239.3h0M351 197.6h0M332.7 204.5h0M257.6 283.2h0M359.6 186.1h0M314.7 218.3h0M317.9 221.1h0M355.5 183.2h0M314.1 226.2h0M300.9 239.9h0M312.9 221.7h0M299.8 240.5h0M354.3 184.3h0M303 234.4h0M265.4 279.7h0M308.5 244h0M284 249.2h0M351.6 190.5h0M352.6 181.8h0M322.6 222.1h0M301.6 239.1h0M320.4 214.9h0M282.7 248.8h0M297.5 222.1h0M295.3 238.1h0M346.2 198h0M266.6 272.1h0M341.9 201.5h0M371.6 171.3h0M326 211.4h0M355.9 188h0M304.5 234.3h0M324.2 217h0M305.7 234.9h0M294 254.1h0M315.1 225.2h0M337.1 205.9h0M285.8 252.2h0M251.8 287h0M266.8 270.5h0M352.5 200.1h0M299.8 242.4h0M307.6 230.8h0M276.3 264.7h0M279 263.4h0M243.4 280.4h0M281.8 264.2h0M353.1 183.9h0M319.7 215.2h0M327 210.1h0M293.5 247.9h0M330.4 213.6h0M285.8 247.7h0M329.2 211.1h0M331.3 207.8h0M298 242.3h0M280.6 264.4h0M307.5 217.6h0M255.8 285.3h0M280 255.4h0M330 204.5h0M288.9 227.6h0M323.7 217.1h0M262.9 278.8h0M308.4 229.1h0M306.9 231.2h0M263.4 275.2h0M299.4 241.9h0M256.4 288.3h0M347.5 191.9h0M251.3 285.9h0M321.8 211.9h0M283.4 263.1h0M258.6 274.9h0M279.7 260h0M343.3 205.6h0M276.9 248.2h0M336.1 200.9h0M347.4 196.7h0M264.8 270.2h0M278.6 260h0M336.9 202.4h0M279.8 250.4h0M278.1 261.4h0M311.8 221.7h0M371.3 170.4h0M340.7 203.9h0M308 231.8h0M313.4 225.7h0M280.2 266.6h0M299.9 230h0M319.7 219.7h0M289.6 244.7h0M275.4 261.9h0M249.4 280.3h0M240.4 316.7h0M371.5 172.6h0M264.3 268.3h0M332.1 199.9h0M329.4 213h0M282.7 261.3h0M282.9 265.1h0M259.1 288.1h0M335.8 206.2h0M296.5 244.2h0M247.7 282.8h0M290 247.8h0M278.4 262.3h0M287.8 255h0M312.3 221.4h0M352.3 195.3h0M283 253.5h0M319.5 226.3h0M374.3 165.3h0M330.7 205h0M311.4 229.8h0M310.7 235.5h0M369.2 177h0M289.7 255.5h0M335.1 204.8h0M322 222.8h0M300.3 234.5h0M317 230.3h0M323.8 230.7h0M286.6 254.4h0M283.8 254.7h0M309.1 234.1h0M353.5 189.5h0M288.5 253.3h0M364.7 176.5h0M302.3 235.9h0M311.8 207.6h0M284.4 253.5h0M330.8 206.9h0M298.1 249.8h0M297.1 242h0M282.4 252.1h0M301 238.2h0M339.8 201.3h0M290.5 246.8h0M302.1 235.6h0M332 203.9h0M339.2 200h0M293.9 244.5h0M298.9 247h0M283.3 252.1h0M267.3 271.3h0M284.3 253.6h0M262.3 272h0M304 238.4h0M267.3 271.6h0M300.6 238h0M250.5 289.1h0M278.6 255.3h0M330 214.8h0M351.9 188.5h0M364.6 173.3h0M362.7 179.3h0M285.5 252.9h0M348.2 201.7h0M296.9 247.9h0M324.4 207.2h0M330.7 215.6h0M253 283.6h0M358.3 183.7h0M235.6 298.7h0M292.1 247.4h0M289.4 247.6h0M342.6 201.9h0M309.4 237.1h0M329.4 218.9h0M251.6 279.7h0M243.4 292.1h0M342.2 212.9h0M329.8 206.3h0M325 211.2h0M317.3 227.3h0M306.5 229.7h0M314.1 221.1h0M295.2 247.4h0M306.4 228.2h0M298.3 258.6h0M243.3 290.5h0M344.6 195.9h0M241.6 294.9h0M319.1 215h0M326.9 216.6h0M371.9 178.7h0M282.1 236.8h0M295.3 246.9h0M316.7 221.8h0M273.1 266.9h0M304.9 235.1h0M306 242.9h0M333.5 212.1h0M365.2 168.1h0M350.6 190.1h0M305.1 226h0M290.7 244h0M242.5 293.4h0M292.2 267.5h0M323.7 218.1h0M301 238.3h0M328.9 215.1h0M252.2 307.1h0M306.2 227.6h0M337 200.8h0M345.7 191.4h0M303.8 245h0M301.1 245.1h0M307.9 238.8h0M342.1 202.1h0M297.8 234.1h0M304.9 235.6h0M344.3 202h0M276.2 244.8h0M338.6 206.1h0M261.5 268.9h0M320 217.7h0M303.7 234h0M333.4 211.8h0M346 198.7h0M298.7 236.2h0M356.5 178.8h0M347.3 195.1h0M315.8 228.1h0M271 268.4h0M311.5 234.3h0M292.1 242.2h0M286.1 248.1h0M328 209.1h0M331.4 208h0M301.2 238h0M286.3 253.6h0M246.1 294.3h0M341.1 198.4h0M337.9 205h0M289.2 258.6h0M282.5 254.5h0M291.5 247.3h0M339.4 204.6h0M264.5 273.9h0M269.8 267.7h0M247.1 285.1h0M354.1 184.9h0M299.9 241.5h0M287.6 253.2h0M327.1 216.8h0M287.6 246.8h0M227.2 302.6h0M246.5 290.6h0M272.8 255.4h0M257.1 287.2h0M245.8 299.2h0M311.5 219.9h0M278.1 261.1h0M246.3 285.8h0M308.5 227.3h0M355.4 189.9h0M299.1 236.2h0M357.6 182.6h0M320.2 218.4h0M279.1 249.1h0M297.7 240.5h0M339.5 198.6h0M347 201h0M319.1 220.1h0M280.2 257.2h0M308.8 226.1h0M293.9 238.7h0M262.8 273.2h0M332.6 210.1h0M278 245.5h0M279 257.2h0M291.8 251.3h0M301.3 234.6h0M299.9 243.7h0M292 241.7h0M242.5 296.4h0M255 280.9h0M318.8 222.3h0M301.7 233h0M266.5 267.5h0M289.2 248.7h0M331.7 211.8h0M309.8 220.1h0M318.7 225.7h0M279.3 263.1h0M313.2 220.8h0M303.1 211.4h0M330.4 217h0M284.2 247.2h0M287.6 248.5h0M363 180.9h0M340.4 209.8h0M292.2 250.8h0M259.6 275.4h0M301.5 233.2h0M284.7 254.3h0M358 179.1h0M286.4 221.2h0M258.1 280.2h0M321.8 222.9h0M255.7 279.4h0M253.6 288.5h0M336.7 197.8h0M326.6 221.5h0M237.9 290.4h0M259.4 280.6h0M287.8 256.4h0M362.1 180.3h0M282.2 255.3h0M320.9 223.1h0M264.5 270.9h0M283.3 260.3h0M330.7 196.3h0M340.9 197h0M334.2 206.2h0M291 253.9h0M335.6 207.5h0M284.5 250.7h0M332.6 209.5h0M310.3 232.9h0M289.6 255.6h0M323.6 223.8h0M343.3 205.5h0M340 205.8h0M316.8 220.7h0M250.2 280.6h0M273.9 260.5h0M245.5 293.3h0M278.9 252h0M279.2 262.9h0M293.2 266.3h0M282.1 255h0M292.5 243.2h0M326.9 214.1h0M345.1 189.1h0M246.3 288.7h0M290.3 246.1h0M287.4 258.1h0M284.6 261.1h0M313.2 233.7h0M290.8 250.4h0M301 244.7h0M364.7 175.5h0M300.3 244.4h0M283.4 253h0M349.1 194.9h0M287.5 252.6h0M288.1 256.3h0M329.6 206.1h0M281.8 248.5h0M292.3 249.1h0M276.1 258h0M310.4 231.7h0M287.4 252.4h0M348.7 161.5h0M301.7 242.4h0M359.5 184.1h0M321.6 212.7h0M325.8 213.9h0M340.4 195.8h0M291.8 244.2h0M346.9 198.1h0M324 220.7h0M280.6 263.1h0M332.4 211.2h0M247.9 287.6h0M299.6 239.5h0M312.6 219.1h0M311 228.4h0M360.6 176.9h0M269.5 261.5h0M331.7 207.5h0M354.9 190.1h0M351.6 185.7h0M334.4 213.9h0M334.6 209h0M263.4 267h0M337.8 201h0M268.1 273.4h0M365.3 178.3h0M282.2 248.5h0M315.3 216.8h0M244.2 290.6h0M253.9 286.1h0M341.9 204.9h0M297.3 245.4h0M274.7 259.5h0M312.2 228.6h0M258.7 278.3h0M305 229.4h0M332.6 209.5h0M370.4 174.4h0M278.3 259h0M271.6 265.9h0M308 231h0M261.2 271.6h0M306.9 232.3h0M283.7 240.7h0M310.6 226.8h0M282.9 253.4h0M300 239.5h0M259 272h0M358.8 181.2h0M284.6 256.7h0M281.9 259h0M360.5 178.7h0M300.5 230.3h0M322.5 223.5h0M293 245.8h0M296.7 243.8h0M328.3 210.9h0M295.6 238.3h0M366.9 171.6h0M327 212.5h0M253.5 291.7h0M369.1 170h0M309 237.4h0M332 209.2h0M274.8 264.7h0M355.7 188h0M348.1 200h0M244.3 292.8h0M299.3 240.3h0M305 230.8h0M253.1 289h0M288.5 244.9h0M288.4 259.8h0M247.4 291h0M294.4 250.8h0M281.8 259h0M243.1 291h0M344.5 192.5h0M298.7 237.7h0M349.9 192.7h0M341.5 190.5h0M322 221.3h0M349.3 188.3h0M324.5 204.3h0M326.3 222.6h0M359 175.4h0M302.8 240.9h0M359.9 187.1h0M292.9 248.1h0M360.6 182.3h0M342.3 202h0M304.6 241.5h0M320.9 221.1h0M296.8 232.6h0M302.7 231.3h0M333.4 204.1h0M327 209.4h0M346.1 200.5h0M321.9 216.8h0M324.9 210.1h0M266 272.7h0M333.2 203.7h0M292.8 248.3h0M367.2 177.8h0M248.4 281.5h0M240.4 290.9h0M335.1 210.1h0M305.9 234.6h0M242.9 292.9h0M345.3 193.2h0M293.7 240.4h0M313.6 230.8h0M293.7 245.9h0M297.9 243.9h0M286.9 255h0M310.7 232.3h0M287.3 249.1h0M275 257.2h0M333.4 193.6h0M341.5 213.9h0M291.7 253.8h0M290.4 252.3h0M322.6 217.3h0M290.6 242.4h0M357.5 188.3h0M298.3 241.3h0M287.2 259.4h0M307 237.8h0M254 276.4h0M264.6 267.8h0M311.9 223.5h0M374 169.8h0M252.6 275.2h0M305.6 240.2h0M351.9 186h0M314.2 230.2h0M328.3 215.7h0M329.9 201.5h0M285 253.9h0M289.2 257.9h0M288 253h0M294.6 242.8h0M304.7 243.5h0M333.6 202.4h0M358.4 181h0M372 168.2h0M341.5 200.8h0M293.9 236.9h0M290.9 257.9h0M314.6 231h0M329.1 209.6h0M283.9 252.7h0M278.1 257.3h0M301.3 245h0M358.5 184.1h0M312.3 230.6h0M369.3 174.3h0M358.5 182.4h0M289.4 245.6h0M310.3 237.9h0M299.5 242.6h0M351.7 193.7h0M260.8 278.4h0M320.8 215.9h0M253.7 284.1h0M347 194.5h0M256.6 283.5h0M302.5 232.2h0M304.4 236.6h0M268.2 264.3h0M335.9 218.6h0M326.2 217.3h0M314.9 232.4h0M251.8 289.1h0M281.6 262.1h0M275.4 264.8h0M299.7 234.8h0M310.4 221.3h0M237.9 315.6h0M225.3 302.7h0M261.9 280.2h0M245.5 281h0M255.2 268h0M246.6 294.7h0M241.3 290.1h0M214.4 327.4h0M258.3 259.1h0M227.3 299.9h0M214.1 342.8h0M281 273.7h0M209.8 344.6h0M246.6 310.2h0M231.5 313.1h0M251.3 274.5h0M242.2 295.3h0M251.5 291.4h0M259.3 283.5h0M241.3 282.7h0M257.9 271.3h0M241.8 295.6h0M245.1 278.9h0M251.2 292.6h0M249.7 302.6h0M233.7 292.5h0M229.1 309.6h0M223 329.7h0M253.9 294.8h0M234.9 307.1h0M211.7 328.5h0M244.4 288.9h0M253.5 285h0M228.9 296.2h0M209 301.4h0M214.3 334.3h0M243.3 284.5h0M240.8 297.8h0M238.8 311.5h0M238.2 316.6h0M247.6 299.1h0M280.9 274.3h0M225.7 301.7h0M261.2 277.6h0M219.5 306h0M241 319.5h0M245.1 293.6h0M231.1 290.2h0M253.2 292.4h0M247 317.3h0M219.2 316.4h0M241.9 317.5h0M245 297.6h0M244.6 298h0M230.3 314.6h0M214 327.4h0M238.2 283.6h0M242.5 313.5h0M223 321.2h0M248.2 291.4h0M217.3 309.1h0M267.2 266.6h0M236.4 294.7h0M243.8 316.3h0M239.4 322.3h0M241.8 340.5h0M245.4 297.4h0M260.6 268.2h0M235.4 291.6h0M251.6 292.8h0M208.5 308.9h0M232.9 322.1h0M250.3 264h0M211 305.9h0M232.2 295.3h0M213.6 307.9h0M241.2 316.5h0M250.6 286.2h0M230.2 287.9h0M234.5 292.4h0M239.9 297.2h0M247 302.8h0M273.9 273.1h0M225.1 322.4h0M241 302.3h0M262.3 277.9h0M220.7 324.6h0M218.3 332.4h0M229.1 310h0M247.9 280.2h0M232.4 297.1h0M222.6 320.3h0M233.2 291.3h0M222.6 363.9h0M244 289.5h0M233.2 328h0M241.7 309.6h0M254.8 278.1h0M247 300.4h0M235 314.3h0M244.2 295.6h0M232.4 312.5h0M239.5 316.1h0M204.1 312.1h0M221.4 310.5h0M233.7 313.6h0M211.5 343.1h0M257.9 282.8h0M226 326.3h0M251.4 280.4h0M215 334.8h0M217.5 308.8h0M217.1 331.8h0M254.1 290.5h0M238.8 296.7h0M246.7 308.5h0M246.8 296.3h0M215.1 313.8h0M247.5 274.2h0M260.4 296.5h0M246.4 277.4h0M231 295.9h0M270.6 254.8h0M214.3 332.3h0M239.5 303.4h0M236.8 294.8h0M234.5 280.3h0M242.6 298.5h0M242.4 299.7h0M274.4 262.4h0M259.3 269.3h0M243.9 298.9h0M248.3 302.2h0M256.5 303.5h0M222 312.4h0M236.4 298.8h0M225.1 323.3h0M257.6 274.7h0M242.5 281.7h0M233.1 312.1h0M240.1 295.3h0M236.5 326.3h0M258.7 281.2h0M231.2 298.1h0M227.9 322.5h0M256.5 275.1h0M253.6 291.2h0M210.9 351.2h0M269.1 247.3h0M233.2 290h0M196 340.8h0M208.5 314.1h0M205.3 313.8h0M201.4 323h0M187.8 364.5h0M210.4 305.8h0M217.9 318.9h0M186.8 341.1h0M192.3 338.8h0M209.6 327h0M186.1 318.9h0M212.3 321.8h0M216.6 319.1h0M214.4 314.3h0M212.4 323.3h0M207.3 309.6h0M186.5 340.3h0M207.8 327.8h0M196 357.9h0M189.5 342.1h0M194.9 347.8h0M208.6 321.4h0M215.6 312.2h0M204.2 344.4h0M208.8 329.8h0M191.2 325.2h0M260.4 289h0M240.9 333.3h0M246.3 324.2h0M224.4 327.5h0M242.5 333.6h0M224.5 339.3h0M257.7 330.5h0M232.8 326.5h0M233.7 328.9h0M251.1 320.6h0M230.6 318.2h0M254.2 304.6h0M223.6 334.4h0M258.6 300.2h0M242.9 324.2h0M251.5 315.5h0M222.1 328.3h0M238.3 314.6h0M244.3 334.8h0M241.2 325h0M243.9 316.9h0M260 327.8h0M243.5 308.2h0M227.9 322.5h0M229.4 338.7h0M225.3 324.5h0M243.1 328.4h0M257.5 314.4h0M256.2 310.4h0M224.1 323.8h0M262.1 287.1h0M257.7 290h0M252.5 300.1h0M223.8 331.2h0M245.7 305.4h0M317.8 197.3h0M287.6 228.3h0M342.6 168.6h0M258.1 250.2h0M285.5 236.5h0M320 198.9h0M343.9 175.2h0M289.4 224.9h0M270.2 247.4h0M300.7 206.8h0M317.3 193.8h0M316.9 197.6h0M302.5 216.2h0M290.9 228h0M255.9 258h0M320.4 199h0M320 200.5h0M320.7 194.2h0M263.5 257.3h0M258.7 260.6h0M320.1 199h0M290.9 230.9h0M260.8 244.7h0M268.3 250.7h0M255.7 265h0M291.9 215.7h0M329 186.8h0M257.3 254.7h0M262.4 250.9h0M257.3 261.8h0M265.5 243h0M268.3 252.3h0M302.5 212.8h0M264.4 252h0M301 217.6h0M291.8 225.7h0M319.4 194h0M313.6 205.5h0M274.8 238.6h0M335.8 181.6h0M320.3 197.4h0M319.2 204.4h0M280.4 241h0M302.1 219.7h0M321.9 197.4h0M266.5 252.7h0M264.6 249h0M328.6 182.9h0M280.3 231.9h0M301 207.4h0M291.3 231.4h0M311.7 204.4h0M261.9 258h0M317.6 206.3h0M343.5 171h0M351.4 206.1h0M354.1 204h0M297.4 257h0M289.1 270.9h0M320.5 235.6h0M351 215.6h0M344.5 215.4h0M297 257.4h0M304.7 255.5h0M278.4 276.9h0M347.2 210.8h0M282.7 273.4h0M333.4 226.8h0M318.9 235.6h0M319.5 237h0M316.8 239.4h0M288.2 271.5h0M339.9 228.4h0M286.1 267.7h0M280.5 275.4h0M289.1 275.8h0M334.6 224.9h0M153 236.4h0M240.1 204.2h0M261.3 205h0M264.2 185.3h0M237.1 233.5h0M237.9 247.7h0M220.9 258.6h0M286.7 184.1h0M299.5 173.6h0M297.4 161.1h0M325 161.9h0M337.7 156h0M350.4 152.7h0M373.8 148.5h0M386.5 142.2h0M390.8 142.2h0M392.9 142.2h0M395.8 141.4h0M400.1 146.4h0M407.7 133.9h0M416.2 125.5h0M416.6 123h0M418.8 134.7h0M384.4 169.4h0M378 177.8h0M361 215.5h0M344.1 230.1h0M337.7 228h0M308 280.3h0M325 253.1h0M231.6 414.3h0M271 380.8h0M258.3 368.2h0M223.1 370.3h0M198.9 366.1h0M211.6 357.8h0M182.7 324.3h0M193.4 336.8h0M191.2 326.4h0M197.6 322.2h0M204 305.4h0M201.8 315.9h0M212.5 277h0M221.8 274.1h0M225.2 359.8h0M237.9 349.4h0M248.5 347.3h0M254.9 338.9h0M242.2 336.8h0M229.4 338.9h0M218.8 332.6h0M208.2 330.6h0" stroke="#5e5e5e" stroke-width="3" stroke-linecap="round" fill="none"/>
<line x1="153" y1="378.6" x2="418.8" y2="126.8" stroke="#2b2b2b" stroke-width="1"/>
<g font-size="12.4" fill="#6e6e6e">
<text x="93.9" y="295.4" text-anchor="middle">-4</text>
<text x="252.6" y="447.4" text-anchor="end">-4</text>
<text x="136.3" y="295.4" text-anchor="middle">-3</text>
<text x="252.6" y="405.6" text-anchor="end">-3</text>
<text x="178.8" y="295.4" text-anchor="middle">-2</text>
<text x="252.6" y="363.7" text-anchor="end">-2</text>
<text x="221.2" y="295.4" text-anchor="middle">-1</text>
<text x="252.6" y="321.9" text-anchor="end">-1</text>
<text x="305.8" y="295.4" text-anchor="middle">1</text>
<text x="252.6" y="238.2" text-anchor="end">1</text>
<text x="348.3" y="295.4" text-anchor="middle">2</text>
<text x="252.6" y="196.3" text-anchor="end">2</text>
<text x="390.8" y="295.4" text-anchor="middle">3</text>
<text x="252.6" y="154.5" text-anchor="end">3</text>
<text x="433.2" y="295.4" text-anchor="middle">4</text>
<text x="252.6" y="112.6" text-anchor="end">4</text>
<text x="475.6" y="295.4" text-anchor="middle">5</text>
<text x="252.6" y="70.8" text-anchor="end">5</text>
</g>
<text x="291.9" y="462.2" font-size="18.7" font-weight="bold" text-anchor="middle" fill="#000">Dark</text>
<text transform="translate(90.7 248.3) rotate(-90)" font-size="18.4" font-weight="bold" text-anchor="middle" fill="#000">Blue</text>
<g font-size="15.2" fill="#2e2e2e" text-anchor="middle">
<text x="372" y="81.4">y = 0.9611x + 0.0513</text>
<text x="371.6" y="99">R² = 0.8774</text>
</g>
</g>
<g id="panelB">
<text x="585.2" y="40.6" font-size="33.2" fill="#000">B</text>
<clipPath id="gc"><circle cx="843.3" cy="277.6" r="138.8"/></clipPath>
<circle cx="843.3" cy="277.6" r="138.8" fill="#7ffaaa"/>
<circle cx="725" cy="164.4" r="55.2" fill="#ff6666"/>
<circle cx="686" cy="277.2" r="65.2" fill="#6666ff"/>
<g clip-path="url(#gc)">
<circle cx="725" cy="164.4" r="55.2" fill="#d3644a"/>
<circle cx="686" cy="277.2" r="65.2" fill="#3a63e0"/>
</g>
<g font-size="21.2" font-weight="bold" fill="#000">
<text x="708" y="99">Blue_down</text>
<text x="605.2" y="363.6">Blue_up</text>
<text x="923.6" y="416.2">gDB-seq</text>
<g text-anchor="middle" font-size="20.8">
<text x="712.8" y="161.6">404</text>
<text x="754.8" y="196.6">80</text>
<text x="662" y="288.9">501</text>
<text x="725.7" y="288.9">183</text>
<text x="868.7" y="281.5">2,932</text>
</g></g></g>
<clipPath id="cc"><rect x="0" y="480" width="1024" height="430.7"/></clipPath>
<g id="panelC" clip-path="url(#cc)">
<text x="22.8" y="524.6" font-size="33.5" fill="#000">C</text>
<path d="M106.1 577V910.4M113.6 577V910.4M121.2 577V910.4M128.7 577V910.4M143.8 577V910.4M151.3 577V910.4M158.9 577V910.4M166.4 577V910.4M173.9 577V910.4M181.5 577V910.4M189 577V910.4M196.5 577V910.4M204.1 577V910.4M219.1 577V910.4M226.7 577V910.4M234.2 577V910.4M241.7 577V910.4M249.3 577V910.4M256.8 577V910.4M264.3 577V910.4M271.9 577V910.4M279.4 577V910.4M294.5 577V910.4M302 577V910.4M309.6 577V910.4M317.1 577V910.4M324.6 577V910.4M332.2 577V910.4M339.7 577V910.4M347.2 577V910.4M354.8 577V910.4M369.8 577V910.4M377.4 577V910.4M384.9 577V910.4M392.4 577V910.4M400 577V910.4M407.5 577V910.4M415 577V910.4M422.6 577V910.4M430.1 577V910.4M445.2 577V910.4M452.7 577V910.4M486.1 559.8V910.4M493.7 559.8V910.4M508.7 559.8V910.4M516.3 559.8V910.4M523.8 559.8V910.4M531.3 559.8V910.4M538.9 559.8V910.4M546.4 559.8V910.4M553.9 559.8V910.4M561.4 559.8V910.4M569 559.8V910.4M584 559.8V910.4M591.6 559.8V910.4M599.1 559.8V910.4M606.6 559.8V910.4M614.1 559.8V910.4M621.7 559.8V910.4M629.2 559.8V910.4M636.7 559.8V910.4M644.3 559.8V910.4M659.3 559.8V910.4M666.9 559.8V910.4M674.4 559.8V910.4M681.9 559.8V910.4M689.5 559.8V910.4M697 559.8V910.4M704.5 559.8V910.4M712 559.8V910.4M719.6 559.8V910.4M734.6 559.8V910.4M742.2 559.8V910.4" stroke="#d3f3f6" stroke-width="1.7" fill="none"/>
<path d="M136.2 577V910.4M211.6 577V910.4M286.9 577V910.4M362.3 577V910.4M437.6 577V910.4M501.2 559.8V910.4M576.5 559.8V910.4M651.8 559.8V910.4M727.1 559.8V910.4" stroke="#bfe1f5" stroke-width="1.7" fill="none"/>
<rect x="99.6" y="863.9" width="356.8" height="46.8" fill="#b9ecf0" fill-opacity="0.22"/>
<rect x="481.3" y="863.9" width="264" height="46.8" fill="#b9ecf0" fill-opacity="0.22"/>
<path d="M99.6 863.9H456.4V867.1H99.6ZM99.6 868.1H456.4V871.9H99.6ZM99.6 873H456.4V876.8H99.6ZM99.6 877.9H456.4V881.6H99.6ZM99.6 882.7H456.4V886.5H99.6ZM99.6 887.5H456.4V891.3H99.6ZM99.6 892.4H456.4V896.2H99.6ZM99.6 897.2H456.4V901H99.6ZM99.6 902.1H456.4V905.9H99.6ZM99.6 906.9H456.4V910.7H99.6ZM481.3 863.9H745.3V867.1H481.3ZM481.3 868.1H745.3V871.9H481.3ZM481.3 873H745.3V876.8H481.3ZM481.3 877.9H745.3V881.6H481.3ZM481.3 882.7H745.3V886.5H481.3ZM481.3 887.5H745.3V891.3H481.3ZM481.3 892.4H745.3V896.2H481.3ZM481.3 897.2H745.3V901H481.3ZM481.3 902.1H745.3V905.9H481.3ZM481.3 906.9H745.3V910.7H481.3Z" fill="#a9e8ee" fill-opacity="0.42"/>
<path d="M99.6 693.6H456.4M99.6 703H456.4M99.6 720.8H456.4M481.3 693.6H745.3M481.3 701.2H745.3M481.3 708.9H745.3M481.3 716.5H745.3M481.3 724.1H745.3M481.3 731.8H745.3M99.6 779.4H456.4M99.6 788.8H456.4M99.6 806.6H456.4M481.3 779.4H745.3M481.3 787H745.3M481.3 794.7H745.3M481.3 802.3H745.3M481.3 809.9H745.3M481.3 817.5H745.3" stroke="#c9eff3" stroke-width="1.5" fill="none"/>
<path d="M99.6 739.5H456.4M481.3 739.4H745.3M99.6 825.3H456.4M481.3 825.2H745.3" stroke="#b9e4f4" stroke-width="1.6" fill="none"/>
<path d="M99.6 584.9H455.4M106.1 582.9V586.9M113.6 582.9V586.9M121.2 582.9V586.9M128.7 582.9V586.9M136.2 581.1V588.2M143.8 582.9V586.9M151.3 582.9V586.9M158.9 582.9V586.9M166.4 582.9V586.9M173.9 582.9V586.9M181.5 582.9V586.9M189 582.9V586.9M196.5 582.9V586.9M204.1 582.9V586.9M211.6 581.1V588.2M219.1 582.9V586.9M226.7 582.9V586.9M234.2 582.9V586.9M241.7 582.9V586.9M249.3 582.9V586.9M256.8 582.9V586.9M264.3 582.9V586.9M271.9 582.9V586.9M279.4 582.9V586.9M286.9 581.1V588.2M294.5 582.9V586.9M302 582.9V586.9M309.6 582.9V586.9M317.1 582.9V586.9M324.6 582.9V586.9M332.2 582.9V586.9M339.7 582.9V586.9M347.2 582.9V586.9M354.8 582.9V586.9M362.3 581.1V588.2M369.8 582.9V586.9M377.4 582.9V586.9M384.9 582.9V586.9M392.4 582.9V586.9M400 582.9V586.9M407.5 582.9V586.9M415 582.9V586.9M422.6 582.9V586.9M430.1 582.9V586.9M437.6 581.1V588.2M445.2 582.9V586.9M452.7 582.9V586.9" stroke="#2a2a2a" stroke-width="1.05" fill="none"/>
<text x="121.2" y="597.8" class="m" font-size="10.9" fill="#3a3a3a" textLength="27.5" lengthAdjust="spacingAndGlyphs">8535k</text>
<text x="196.5" y="597.8" class="m" font-size="10.9" fill="#3a3a3a" textLength="27.5" lengthAdjust="spacingAndGlyphs">8536k</text>
<text x="271.9" y="597.8" class="m" font-size="10.9" fill="#3a3a3a" textLength="27.5" lengthAdjust="spacingAndGlyphs">8537k</text>
<text x="347.2" y="597.8" class="m" font-size="10.9" fill="#3a3a3a" textLength="27.5" lengthAdjust="spacingAndGlyphs">8538k</text>
<text x="422.6" y="597.8" class="m" font-size="10.9" fill="#3a3a3a" textLength="27.5" lengthAdjust="spacingAndGlyphs">8539k</text>
<path d="M481.3 567.8H744.8M486.1 565.8V569.8M493.7 565.8V569.8M501.2 564V571.1M508.7 565.8V569.8M516.3 565.8V569.8M523.8 565.8V569.8M531.3 565.8V569.8M538.9 565.8V569.8M546.4 565.8V569.8M553.9 565.8V569.8M561.4 565.8V569.8M569 565.8V569.8M576.5 564V571.1M584 565.8V569.8M591.6 565.8V569.8M599.1 565.8V569.8M606.6 565.8V569.8M614.1 565.8V569.8M621.7 565.8V569.8M629.2 565.8V569.8M636.7 565.8V569.8M644.3 565.8V569.8M651.8 564V571.1M659.3 565.8V569.8M666.9 565.8V569.8M674.4 565.8V569.8M681.9 565.8V569.8M689.5 565.8V569.8M697 565.8V569.8M704.5 565.8V569.8M712 565.8V569.8M719.6 565.8V569.8M727.1 564V571.1M734.6 565.8V569.8M742.2 565.8V569.8" stroke="#2a2a2a" stroke-width="1.05" fill="none"/>
<text x="483.4" y="580.6" class="m" font-size="10.9" fill="#3a3a3a" textLength="33" lengthAdjust="spacingAndGlyphs">21216k</text>
<text x="558.7" y="580.6" class="m" font-size="10.9" fill="#3a3a3a" textLength="33" lengthAdjust="spacingAndGlyphs">21217k</text>
<text x="634" y="580.6" class="m" font-size="10.9" fill="#3a3a3a" textLength="33" lengthAdjust="spacingAndGlyphs">21218k</text>
<text x="709.3" y="580.6" class="m" font-size="10.9" fill="#3a3a3a" textLength="33" lengthAdjust="spacingAndGlyphs">21219k</text>
<rect x="155.2" y="626" width="218.6" height="10.8" fill="#ffff00"/>
<path d="M166 631.6H295.3L300.5 629.6L305.8 631.6H365" stroke="#1c1c1c" stroke-width="1" fill="none"/>
<path d="M158.2 631.6L166.4 629.6V633.7Z" fill="#c8c8c8" stroke="#1c1c1c" stroke-width="0.9"/>
<path d="M166.4 629.6H185.2V633.7H166.4ZM188.7 629.6H193.8V633.7H188.7ZM200.4 629.6H216.8V633.7H200.4ZM222.7 629.6H227.8V633.7H222.7ZM233.2 629.6H241.4V633.7H233.2ZM246 629.6H250.3V633.7H246ZM255 629.6H264.8V633.7H255ZM270.7 629.6H277.7V633.7H270.7ZM283.6 629.6H295.3V633.7H283.6ZM305.8 629.6H321V633.7H305.8ZM326.2 629.6H338.7V633.7H326.2ZM343.3 629.6H364.4V633.7H343.3Z" fill="#ffff00" stroke="#1c1c1c" stroke-width="1"/>
<rect x="364.4" y="629.6" width="6.4" height="4.1" fill="#c8c8c8" stroke="#1c1c1c" stroke-width="0.9"/>
<text x="157.3" y="625.3" class="m" font-size="10.2" fill="#333" textLength="50.4" lengthAdjust="spacingAndGlyphs">AT5G24850</text>
<rect x="99.8" y="648.4" width="12" height="5.6" fill="#ffff00" stroke="#1c1c1c" stroke-width="1"/>
<path d="M112 651.2C118 648.5 122 648.5 126 650S132 651.2 135 651.2" stroke="#1c1c1c" stroke-width="1" fill="none"/>
<rect x="135" y="648.6" width="5.4" height="5.4" fill="#e8e8e8" stroke="#1c1c1c" stroke-width="1"/>
<rect x="562" y="608.6" width="110" height="11" fill="#ffff00"/>
<rect x="565.4" y="611.4" width="3" height="5.4" fill="#d8d8d8" stroke="#1c1c1c" stroke-width="0.9"/>
<rect x="568.4" y="611.4" width="87" height="5.4" fill="#ffff00" stroke="#1c1c1c" stroke-width="1"/>
<path d="M655.4 611.4H663L668.4 614.1L663 616.8H655.4Z" fill="#c8c8c8" stroke="#1c1c1c" stroke-width="0.9"/>
<text x="564.8" y="607.8" class="m" font-size="10.2" fill="#333" textLength="50.4" lengthAdjust="spacingAndGlyphs">AT5G52250</text>
<rect x="99.8" y="737.5" width="4.1" height="2" fill="#ff0000"/>
<rect x="107" y="738.2" width="3.7" height="1.3" fill="#ff0000" fill-opacity="0.8"/>
<rect x="135" y="738.3" width="2" height="1.2" fill="#ff0000" fill-opacity="0.7"/>
<rect x="175" y="738.2" width="4.8" height="1.3" fill="#ff0000" fill-opacity="0.8"/>
<rect x="189.6" y="737.4" width="4.1" height="2.1" fill="#ff0000"/>
<rect x="201.6" y="738.3" width="1.6" height="1.2" fill="#ff0000" fill-opacity="0.7"/>
<rect x="224.6" y="738.2" width="3.3" height="1.3" fill="#ff0000" fill-opacity="0.8"/>
<rect x="312.8" y="737.9" width="4.8" height="1.6" fill="#ff0000" fill-opacity="0.9"/>
<rect x="329.4" y="736.9" width="4.8" height="2.6" fill="#ff0000"/>
<rect x="345.6" y="738.1" width="2.8" height="1.4" fill="#ff0000" fill-opacity="0.8"/>
<rect x="365.6" y="737.6" width="6.6" height="1.9" fill="#ff0000"/>
<rect x="568" y="738.1" width="3" height="1.4" fill="#ff0000" fill-opacity="0.9"/>
<rect x="571" y="738" width="2.5" height="1.5" fill="#0000ff" fill-opacity="0.9"/>
<rect x="577" y="737.9" width="5" height="1.6" fill="#ff0000"/>
<rect x="582" y="738.1" width="2" height="1.4" fill="#0000ff" fill-opacity="0.9"/>
<rect x="591" y="738.3" width="3" height="1.2" fill="#ff0000" fill-opacity="0.8"/>
<rect x="596" y="737.9" width="6" height="1.6" fill="#ff0000"/>
<rect x="602" y="738.2" width="2" height="1.3" fill="#0000ff" fill-opacity="0.9"/>
<rect x="607" y="737.9" width="5" height="1.6" fill="#0000ff"/>
<rect x="612" y="738.1" width="2.5" height="1.4" fill="#ff0000" fill-opacity="0.9"/>
<rect x="614.5" y="737.1" width="7" height="2.4" fill="#0000ff"/>
<rect x="621.5" y="738.2" width="5.5" height="1.3" fill="#0000ff"/>
<rect x="627" y="738.1" width="6" height="1.4" fill="#ff0000" fill-opacity="0.9"/>
<rect x="650.5" y="738.2" width="4" height="1.3" fill="#ff0000" fill-opacity="0.8"/>
<rect x="99.8" y="823.3" width="3.4" height="1.7" fill="#ff0000"/>
<rect x="106.4" y="822.8" width="4.2" height="2.2" fill="#ff0000"/>
<rect x="135.2" y="823.6" width="2" height="1.4" fill="#ff0000" fill-opacity="0.8"/>
<rect x="193" y="822.8" width="2.4" height="2.2" fill="#ff0000"/>
<rect x="213.5" y="822.4" width="2.9" height="2.6" fill="#ff0000"/>
<rect x="222.4" y="822.4" width="3.6" height="2.6" fill="#ff0000"/>
<rect x="248.8" y="823" width="1.8" height="2" fill="#ff0000"/>
<rect x="289" y="822.7" width="2.4" height="2.3" fill="#ff0000"/>
<rect x="320" y="823.5" width="4.4" height="1.5" fill="#ff0000" fill-opacity="0.9"/>
<rect x="351" y="822.5" width="4.8" height="2.5" fill="#ff0000"/>
<rect x="366.6" y="823.1" width="5.8" height="1.9" fill="#ff0000"/>
<path d="M158.4 825L158.4 823.6L160.5 822.2L162.6 821.2L164.4 822.6L167 823.4L169 822.4L171 821.6L173.4 820.8L174.6 822L174.6 825Z" fill="#ff0000"/>
<path d="M171.5 825L171.5 822L175 820.5L177.5 810L179.3 804.8L181 811L182.8 816L183.2 825L183.2 825Z" fill="#0000ff"/>
<path d="M190 825L190 822L191.5 818.5L193 817.6L193.6 825L193.6 825Z" fill="#0000ff"/>
<path d="M201.8 825L201.8 817.5L203.5 817L204.5 819.5L206 818L207.5 819.6L209 817.4L210.4 819L212 816.4L213.4 817L214 825L214 825Z" fill="#0000ff"/>
<path d="M225.6 825L225.6 821L227 817L228.4 817.5L228.6 825L228.6 825Z" fill="#0000ff"/>
<path d="M234.4 825L234.4 815L236.5 810L238.4 800.4L240.2 800.6L241 812L241.2 825L241.2 825Z" fill="#0000ff"/>
<path d="M245.6 825L245.6 803L246.6 800.8L247.8 808L249 818L249.4 825L249.4 825Z" fill="#0000ff"/>
<path d="M255.8 825L255.8 821L258 812L260.5 795L262.6 784L264 781.4L265 783L265.2 825L265.2 825Z" fill="#0000ff"/>
<path d="M270.8 825L270.8 806L272 802.4L273.4 805L274.6 814L276 819L277.4 817.5L277.6 825L277.6 825Z" fill="#0000ff"/>
<path d="M285 825L285 819.5L287 817.4L288.6 819.5L291.4 821L293 818.6L294 819.5L294.2 825L294.2 825Z" fill="#0000ff"/>
<path d="M306.2 825L306.2 820L308.5 815.5L310.8 813.6L313 817L315 819.5L317 816.4L318.6 816L320.4 820.5L320.6 825L320.6 825Z" fill="#0000ff"/>
<path d="M327 825L327 821L329.5 816L331.4 811L332.5 809.6L333.8 812L335.5 817.5L337.3 820.5L337.5 825L337.5 825Z" fill="#0000ff"/>
<path d="M342.6 825L342.6 821L344.6 817L346.8 814.5L348.4 817L350.2 820.5L351.6 822L351.8 825L351.8 825Z" fill="#0000ff"/>
<path d="M355.4 825L355.4 821L357.6 818.4L359.6 819.6L361.6 817.4L363.6 817.8L365.6 820L367.2 822.5L367.4 825L367.4 825Z" fill="#0000ff"/>
<path d="M564.7 825L564.7 824.5L565.8 813.7L568.6 805.1L570.1 810.5L571.8 816.3L573.9 818.9L577 818.4L579.7 814.8L581.9 811.6L583.6 815L585.5 813.7L588.1 818.4L590.5 811.6L592.6 808.8L594.8 815.4L597.6 809.8L599.9 811.6L602.3 816.9L604.5 820.2L607.7 815.4L610.9 813.3L613 807.3L614.8 792.7L616.9 787.5L618.6 792.7L620.4 800L622.7 793.9L624.9 800L626.8 811.6L629.2 815L631.5 809.4L634.5 804L636.5 811.6L639.9 816.9L643.1 819.7L647.4 817.6L650.6 815.4L653.2 812.6L655.6 818.4L657.7 824L657.7 825Z" fill="#0000ff"/>
<rect x="657.2" y="823" width="1.6" height="2" fill="#ff0000"/>
<path d="M364.5 910.6L364.5 910.5L367.7 907.3L370.1 902.5L371.9 895.4L372.7 886.6L373.9 877.7L375.1 873.8L376.9 872.2L378.9 873.9L381 877.1L382.5 883.6L384 890.7L384.9 898.4L386 904.9L387.8 908.4L390.3 910.5L390.3 910.6Z" fill="#0000ff"/>
<rect x="308.6" y="908.9" width="1.6" height="1.7" fill="#0000ff" fill-opacity="0.9"/>
<rect x="324.2" y="908.6" width="6.6" height="2" fill="#0000ff" fill-opacity="0.9"/>
<rect x="333.6" y="909.1" width="1.2" height="1.5" fill="#ff0000" fill-opacity="0.8"/>
<rect x="344" y="909.1" width="1.2" height="1.5" fill="#ff0000" fill-opacity="0.8"/>
<rect x="363.4" y="909.3" width="1.4" height="1.3" fill="#ff0000" fill-opacity="0.8"/>
<rect x="390" y="909.3" width="1.2" height="1.3" fill="#ff0000" fill-opacity="0.8"/>
<path d="M612 910.6L612 910.5L616.1 909L617.9 904.9L619.3 897.8L620.8 889.5L622.3 883.8L624.4 882.8L626.7 881L628.8 883.6L630 889.5L631.4 896.6L632.9 903.1L635 906.7L637.3 909.6L638.5 910.5L638.5 910.6Z" fill="#0000ff"/>
<path d="M487.6 910.6L487.6 909.6L492 908.6L496 907.4L500.3 906L504 907.2L508 908.4L512.4 909.6L512.4 910.6Z" fill="#0000ff"/>
<rect x="512.2" y="909.1" width="1.8" height="1.5" fill="#ff0000" fill-opacity="0.9"/>
<rect x="556.4" y="909" width="1.6" height="1.6" fill="#0000ff" fill-opacity="0.9"/>
<rect x="595.8" y="908.8" width="9.2" height="1.8" fill="#0000ff" fill-opacity="0.9"/>
<rect x="702.8" y="909" width="1.8" height="1.6" fill="#ff0000" fill-opacity="0.9"/>
<path d="M267.6 693.6H264.6V739.4H267.6M263.5 703h2.8M263.5 720.8h2.8" stroke="#303030" stroke-width="1.2" fill="none"/>
<text x="268.1" y="697.1" class="m" font-size="11.2" fill="#3a3a3a" textLength="17" lengthAdjust="spacingAndGlyphs">250</text>
<text x="268.3" y="741" class="m" font-size="11.2" fill="#3a3a3a" textLength="10" lengthAdjust="spacingAndGlyphs">-1</text>
<path d="M267.6 779.4H264.6V825.1H267.6M263.5 788.8h2.8M263.5 806.6h2.8" stroke="#303030" stroke-width="1.2" fill="none"/>
<text x="268.1" y="782.9" class="m" font-size="11.2" fill="#3a3a3a" textLength="17" lengthAdjust="spacingAndGlyphs">250</text>
<text x="268.3" y="826.7" class="m" font-size="11.2" fill="#3a3a3a" textLength="10" lengthAdjust="spacingAndGlyphs">-1</text>
<path d="M267.6 864.4H264.6V910H267.6M263.5 867.5h2.8M263.5 870.5h2.8M263.5 873.6h2.8M263.5 876.6h2.8M263.5 879.7h2.8M263.5 882.8h2.8M263.5 885.8h2.8M263.5 888.9h2.8M263.5 891.9h2.8M263.5 895h2.8M263.5 898.1h2.8M263.5 901.1h2.8M263.5 904.2h2.8M263.5 907.2h2.8" stroke="#303030" stroke-width="1.2" fill="none"/>
<text x="268.1" y="867.9" class="m" font-size="11.2" fill="#3a3a3a" textLength="22.6" lengthAdjust="spacingAndGlyphs">2000</text>
<text x="268.3" y="911.6" class="m" font-size="11.2" fill="#3a3a3a" textLength="10" lengthAdjust="spacingAndGlyphs">-1</text>
<path d="M620.1 693.6H617.1V739.4H620.1M616 701.2h2.8M616 708.9h2.8M616 716.5h2.8M616 724.1h2.8M616 731.8h2.8" stroke="#303030" stroke-width="1.2" fill="none"/>
<text x="620.6" y="697.1" class="m" font-size="11.2" fill="#3a3a3a" textLength="17" lengthAdjust="spacingAndGlyphs">600</text>
<text x="620.8" y="741" class="m" font-size="11.2" fill="#3a3a3a" textLength="10" lengthAdjust="spacingAndGlyphs">-1</text>
<path d="M620.1 779.4H617.1V825.1H620.1M616 787h2.8M616 794.7h2.8M616 802.3h2.8M616 809.9h2.8M616 817.5h2.8" stroke="#303030" stroke-width="1.2" fill="none"/>
<text x="620.6" y="782.9" class="m" font-size="11.2" fill="#3a3a3a" textLength="17" lengthAdjust="spacingAndGlyphs">600</text>
<text x="620.8" y="826.7" class="m" font-size="11.2" fill="#3a3a3a" textLength="10" lengthAdjust="spacingAndGlyphs">-1</text>
<path d="M620.1 864.4H617.1V910H620.1M616 867.5h2.8M616 870.5h2.8M616 873.6h2.8M616 876.6h2.8M616 879.7h2.8M616 882.8h2.8M616 885.8h2.8M616 888.9h2.8M616 891.9h2.8M616 895h2.8M616 898.1h2.8M616 901.1h2.8M616 904.2h2.8M616 907.2h2.8" stroke="#303030" stroke-width="1.2" fill="none"/>
<text x="620.6" y="867.9" class="m" font-size="11.2" fill="#3a3a3a" textLength="22.6" lengthAdjust="spacingAndGlyphs">2000</text>
<text x="620.8" y="911.6" class="m" font-size="11.2" fill="#3a3a3a" textLength="10" lengthAdjust="spacingAndGlyphs">-1</text>
<g font-weight="bold" fill="#000">
<text x="109.4" y="566.2" font-size="24.7" font-style="italic">CRY3</text>
<text x="490.4" y="551.2" font-size="24.7" font-style="italic">EFO1</text>
<g font-size="20.1">
<text x="447.4" y="619.8">gene</text>
<text x="399.5" y="714.6">RNA-seq (Dark)</text>
<text x="399.5" y="804.8">RNA-seq (Blue)</text>
<text x="430.4" y="893.6">gDB-seq</text>
</g></g>
</g>
</svg></body></html>
